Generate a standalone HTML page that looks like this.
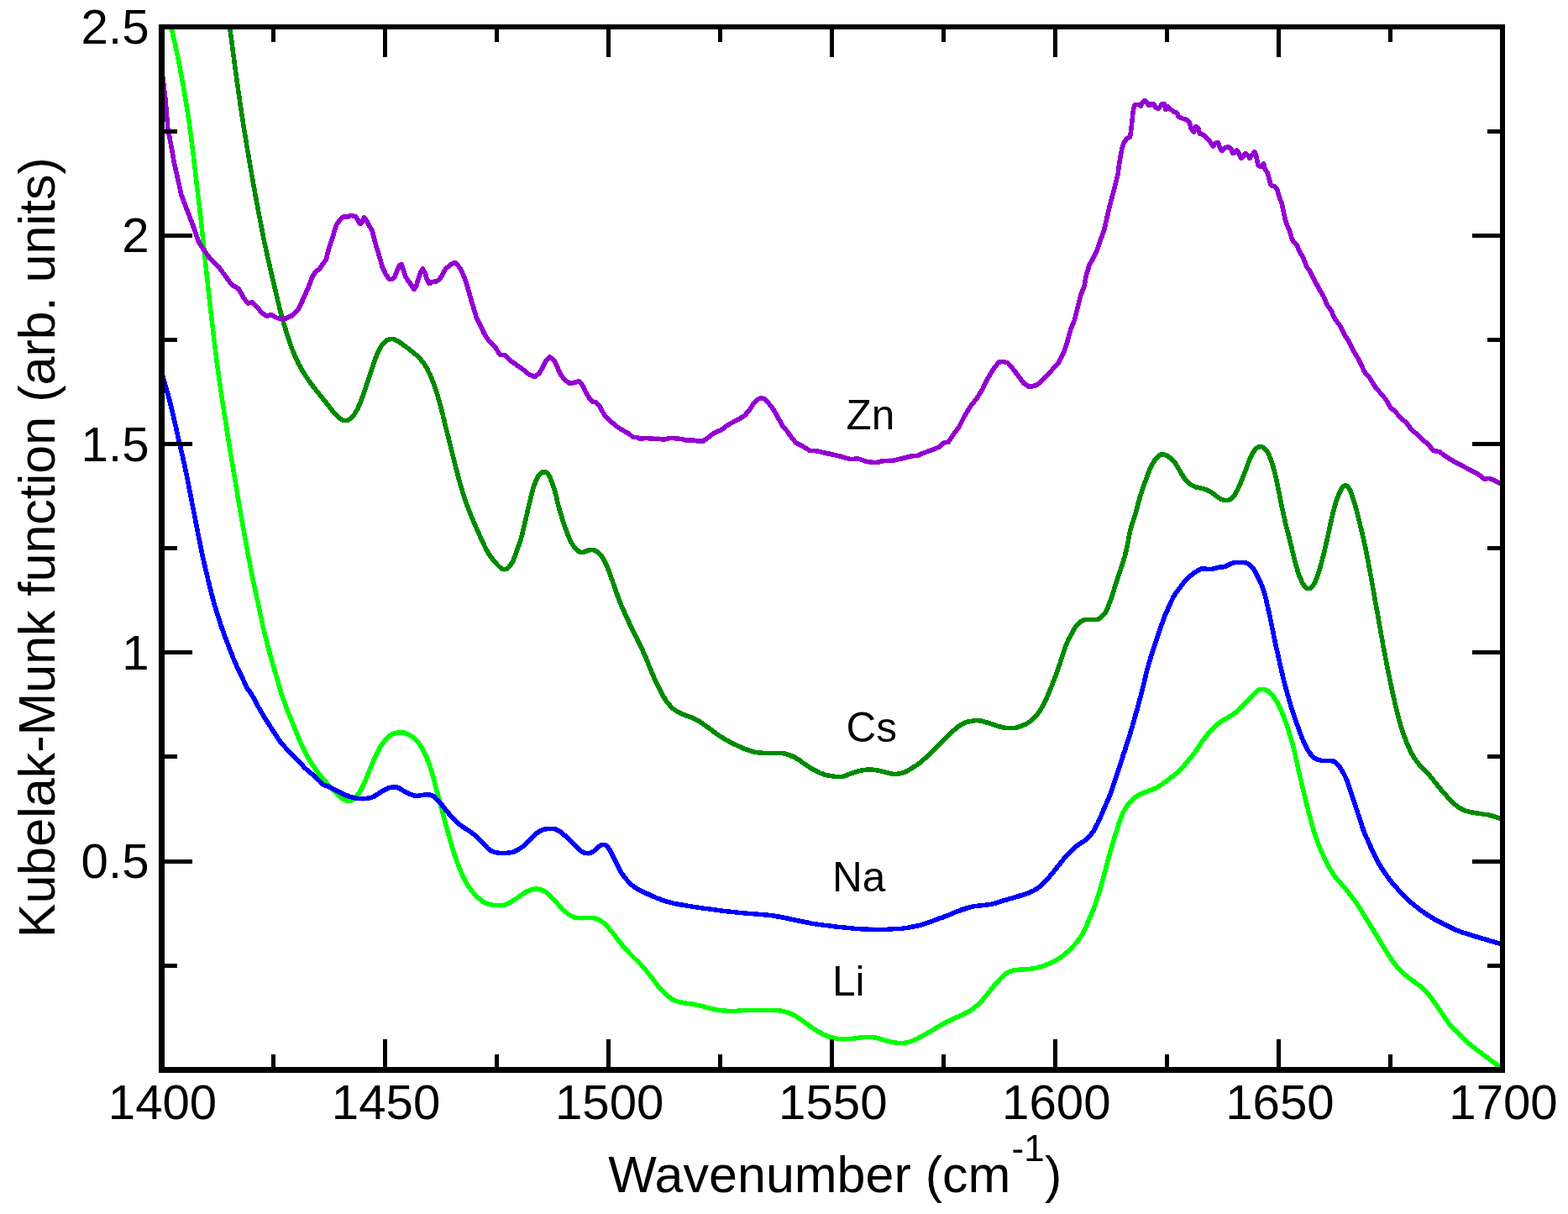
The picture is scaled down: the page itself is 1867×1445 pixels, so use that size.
<!DOCTYPE html>
<html lang="en"><head><meta charset="utf-8"><title>Kubelak-Munk function vs Wavenumber</title>
<style>
html,body{margin:0;padding:0;background:#fff;}
body{width:1867px;height:1445px;overflow:hidden;}
svg{display:block;}
text{font-family:"Liberation Sans",Arial,Helvetica,sans-serif;fill:#000;}
</style></head><body>
<svg width="1867" height="1445" viewBox="0 0 1867 1445">
<rect width="1867" height="1445" fill="#fff"/>
<defs><clipPath id="pc"><rect x="196" y="35" width="1590" height="1235"/></clipPath><filter id="sq" filterUnits="userSpaceOnUse" x="179" y="19" width="1623" height="1268" color-interpolation-filters="sRGB"><feComponentTransfer result="t"><feFuncA type="linear" slope="200" intercept="-100"/></feComponentTransfer><feMorphology in="t" operator="dilate" radius="2 1" result="a"/><feMorphology in="t" operator="dilate" radius="1 2" result="b"/><feMerge><feMergeNode in="a"/><feMergeNode in="b"/></feMerge></filter></defs>
<g clip-path="url(#pc)" fill="none" stroke-width="1.3" stroke-linejoin="round" stroke-linecap="butt">
<g stroke="#00ff00"><defs><path id="cLi" d="M202.9,25.7L203.2,27.7L203.5,29.7L203.9,31.6L204.2,33.6L204.6,35.6L205.0,37.5L205.5,39.5L205.9,41.4L206.3,43.4L206.8,45.3L207.2,47.3L207.6,49.2L208.1,51.2L208.5,53.1L209.0,55.1L209.4,57.0L209.8,59.0L210.3,60.9L210.7,62.9L211.1,64.9L211.5,66.8L211.9,68.8L212.3,70.7L212.7,72.7L213.1,74.7L213.4,76.6L213.8,78.6L214.2,80.6L214.6,82.5L214.9,84.5L215.3,86.5L215.6,88.4L216.0,90.4L216.4,92.4L216.7,94.3L217.1,96.3L217.4,98.3L217.8,100.2L218.1,102.2L218.5,104.2L218.8,106.1L219.2,108.1L219.5,110.1L219.8,112.1L220.2,114.0L220.5,116.0L220.9,118.0L221.2,119.9L221.5,121.9L221.9,123.9L222.2,125.9L222.5,127.8L222.8,129.8L223.1,131.8L223.4,133.8L223.7,135.7L224.0,137.7L224.3,139.7L224.6,141.7L224.9,143.7L225.2,145.6L225.5,147.6L225.7,149.6L226.0,151.6L226.3,153.6L226.5,155.6L226.8,157.5L227.1,159.5L227.3,161.5L227.6,163.5L227.8,165.5L228.1,167.5L228.3,169.4L228.6,171.4L228.8,173.4L229.1,175.4L229.3,177.4L229.6,179.4L229.8,181.4L230.1,183.3L230.3,185.3L230.5,187.3L230.8,189.3L231.0,191.3L231.2,193.3L231.5,195.3L231.7,197.2L231.9,199.2L232.2,201.2L232.4,203.2L232.6,205.2L232.8,207.2L233.1,209.2L233.3,211.2L233.5,213.1L233.8,215.1L234.0,217.1L234.2,219.1L234.5,221.1L234.7,223.1L234.9,225.1L235.2,227.0L235.4,229.0L235.7,231.0L235.9,233.0L236.1,235.0L236.4,237.0L236.6,239.0L236.8,241.0L237.1,242.9L237.3,244.9L237.5,246.9L237.8,248.9L238.0,250.9L238.2,252.9L238.4,254.9L238.7,256.8L238.9,258.8L239.1,260.8L239.3,262.8L239.5,264.8L239.7,266.8L239.9,268.8L240.1,270.8L240.4,272.8L240.6,274.8L240.8,276.7L241.0,278.7L241.2,280.7L241.4,282.7L241.6,284.7L241.8,286.7L242.0,288.7L242.3,290.7L242.5,292.7L242.7,294.6L242.9,296.6L243.1,298.6L243.3,300.6L243.5,302.6L243.7,304.6L244.0,306.6L244.2,308.6L244.4,310.6L244.6,312.5L244.8,314.5L245.0,316.5L245.2,318.5L245.5,320.5L245.7,322.5L245.9,324.5L246.1,326.5L246.3,328.5L246.5,330.4L246.7,332.4L247.0,334.4L247.2,336.4L247.4,338.4L247.6,340.4L247.8,342.4L248.0,344.4L248.2,346.4L248.5,348.3L248.7,350.3L248.9,352.3L249.1,354.3L249.3,356.3L249.6,358.3L249.8,360.3L250.0,362.3L250.2,364.2L250.5,366.2L250.7,368.2L250.9,370.2L251.1,372.2L251.4,374.2L251.6,376.2L251.8,378.2L252.1,380.1L252.3,382.1L252.5,384.1L252.8,386.1L253.0,388.1L253.3,390.1L253.5,392.1L253.7,394.0L254.0,396.0L254.2,398.0L254.4,400.0L254.7,402.0L254.9,404.0L255.2,406.0L255.4,408.0L255.6,409.9L255.9,411.9L256.1,413.9L256.3,415.9L256.6,417.9L256.8,419.9L257.1,421.9L257.3,423.8L257.5,425.8L257.8,427.8L258.0,429.8L258.3,431.8L258.5,433.8L258.8,435.7L259.1,437.7L259.3,439.7L259.6,441.7L259.9,443.7L260.2,445.7L260.4,447.6L260.7,449.6L261.0,451.6L261.3,453.6L261.6,455.6L261.9,457.5L262.2,459.5L262.4,461.5L262.7,463.5L263.0,465.5L263.3,467.4L263.6,469.4L263.9,471.4L264.2,473.4L264.5,475.3L264.8,477.3L265.1,479.3L265.4,481.3L265.7,483.3L266.0,485.2L266.3,487.2L266.6,489.2L266.9,491.2L267.2,493.1L267.5,495.1L267.8,497.1L268.1,499.1L268.5,501.1L268.8,503.0L269.1,505.0L269.4,507.0L269.7,509.0L270.0,510.9L270.3,512.9L270.6,514.9L270.9,516.9L271.2,518.8L271.5,520.8L271.8,522.8L272.2,524.8L272.5,526.7L272.8,528.7L273.1,530.7L273.4,532.7L273.7,534.6L274.1,536.6L274.4,538.6L274.7,540.6L275.0,542.5L275.4,544.5L275.7,546.5L276.0,548.5L276.4,550.4L276.7,552.4L277.0,554.4L277.4,556.4L277.7,558.3L278.0,560.3L278.3,562.3L278.7,564.2L279.0,566.2L279.3,568.2L279.7,570.2L280.0,572.1L280.3,574.1L280.6,576.1L281.0,578.1L281.3,580.0L281.6,582.0L281.9,584.0L282.3,586.0L282.6,587.9L282.9,589.9L283.2,591.9L283.6,593.8L283.9,595.8L284.3,597.8L284.6,599.8L285.0,601.7L285.3,603.7L285.6,605.7L286.0,607.6L286.3,609.6L286.7,611.6L287.0,613.5L287.4,615.5L287.7,617.5L288.1,619.5L288.4,621.4L288.8,623.4L289.1,625.4L289.5,627.3L289.8,629.3L290.2,631.3L290.5,633.2L290.9,635.2L291.2,637.2L291.6,639.2L291.9,641.1L292.3,643.1L292.7,645.1L293.0,647.0L293.4,649.0L293.7,651.0L294.1,652.9L294.4,654.9L294.8,656.9L295.2,658.8L295.5,660.8L295.9,662.8L296.3,664.7L296.6,666.7L297.0,668.7L297.4,670.6L297.7,672.6L298.1,674.6L298.5,676.5L298.9,678.5L299.3,680.4L299.7,682.4L300.1,684.4L300.5,686.3L300.9,688.3L301.3,690.2L301.7,692.2L302.1,694.2L302.5,696.1L302.9,698.1L303.4,700.0L303.8,702.0L304.2,703.9L304.6,705.9L305.1,707.8L305.5,709.8L305.9,711.8L306.3,713.7L306.8,715.7L307.2,717.6L307.6,719.6L308.0,721.5L308.4,723.5L308.8,725.5L309.2,727.4L309.6,729.4L310.0,731.3L310.5,733.3L310.9,735.2L311.3,737.2L311.7,739.2L312.2,741.1L312.6,743.1L313.0,745.0L313.5,747.0L313.9,748.9L314.4,750.9L314.9,752.8L315.3,754.7L315.8,756.7L316.3,758.6L316.8,760.6L317.3,762.5L317.8,764.4L318.3,766.4L318.8,768.3L319.3,770.3L319.8,772.2L320.3,774.1L320.8,776.1L321.3,778.0L321.8,779.9L322.4,781.8L322.9,783.8L323.5,785.7L324.0,787.6L324.5,789.6L325.1,791.5L325.7,793.4L326.2,795.3L326.8,797.2L327.3,799.2L327.9,801.1L328.5,803.0L329.0,804.9L329.6,806.8L330.2,808.8L330.7,810.7L331.3,812.6L331.8,814.5L332.4,816.4L332.9,818.4L333.5,820.3L334.1,822.2L334.7,824.1L335.3,826.0L335.9,827.9L336.5,829.8L337.2,831.7L337.9,833.6L338.5,835.5L339.2,837.3L339.9,839.2L340.6,841.1L341.3,843.0L342.1,844.8L342.8,846.7L343.5,848.6L344.2,850.4L345.0,852.3L345.7,854.1L346.4,856.0L347.2,857.9L347.9,859.7L348.7,861.6L349.4,863.4L350.2,865.3L351.0,867.1L351.7,869.0L352.5,870.8L353.2,872.7L354.0,874.5L354.8,876.4L355.5,878.2L356.3,880.1L357.1,881.9L357.9,883.7L358.7,885.6L359.5,887.4L360.3,889.2L361.2,891.0L362.1,892.8L363.0,894.6L363.9,896.4L364.8,898.2L365.8,899.9L366.7,901.7L367.8,903.4L368.8,905.1L369.9,906.8L371.0,908.5L372.0,910.1L373.2,911.8L374.3,913.5L375.4,915.1L376.6,916.7L377.7,918.4L378.9,920.0L380.1,921.6L381.4,923.1L382.7,924.7L384.0,926.2L385.3,927.7L386.6,929.2L388.0,930.6L389.3,932.1L390.7,933.6L392.0,935.1L393.3,936.6L394.6,938.1L395.9,939.6L397.3,941.1L398.7,942.6L400.1,944.0L401.5,945.4L402.9,946.8L404.4,948.1L405.9,949.4L407.6,950.6L409.2,951.6L411.0,952.5L412.9,953.1L414.9,953.3L416.8,953.1L418.7,952.5L420.5,951.6L422.1,950.4L423.5,949.0L424.8,947.5L426.0,945.9L427.1,944.2L428.2,942.5L429.2,940.8L430.2,939.1L431.1,937.3L432.0,935.5L432.9,933.7L433.8,931.9L434.6,930.1L435.4,928.3L436.1,926.4L436.9,924.5L437.6,922.7L438.4,920.8L439.1,919.0L439.9,917.1L440.6,915.3L441.4,913.4L442.2,911.6L443.0,909.7L443.7,907.9L444.5,906.1L445.3,904.2L446.1,902.4L447.0,900.6L447.8,898.8L448.7,897.0L449.6,895.2L450.5,893.4L451.4,891.6L452.4,889.9L453.5,888.2L454.5,886.5L455.6,884.8L456.8,883.2L457.9,881.6L459.2,880.0L460.6,878.6L462.1,877.2L463.6,876.0L465.3,874.9L467.0,873.9L468.8,873.1L470.8,872.6L472.7,872.2L474.7,872.0L476.7,871.9L478.7,871.9L480.7,872.1L482.6,872.7L484.4,873.4L486.2,874.3L488.0,875.3L489.7,876.3L491.3,877.4L493.0,878.6L494.5,879.9L495.9,881.3L497.2,882.8L498.5,884.3L499.6,886.0L500.7,887.6L501.8,889.3L502.8,891.1L503.8,892.8L504.7,894.6L505.6,896.4L506.4,898.2L507.3,900.0L508.0,901.8L508.8,903.7L509.6,905.6L510.3,907.4L511.0,909.3L511.6,911.2L512.3,913.1L512.9,915.0L513.4,916.9L514.0,918.8L514.6,920.7L515.1,922.7L515.6,924.6L516.2,926.5L516.7,928.5L517.2,930.4L517.7,932.3L518.2,934.3L518.7,936.2L519.2,938.1L519.7,940.1L520.2,942.0L520.7,944.0L521.2,945.9L521.7,947.8L522.2,949.8L522.7,951.7L523.3,953.6L523.8,955.5L524.3,957.5L524.8,959.4L525.4,961.3L525.9,963.3L526.4,965.2L526.9,967.1L527.5,969.1L528.0,971.0L528.5,972.9L529.1,974.8L529.6,976.8L530.1,978.7L530.6,980.6L531.1,982.6L531.7,984.5L532.2,986.4L532.7,988.4L533.2,990.3L533.8,992.2L534.3,994.1L534.8,996.1L535.4,998.0L535.9,999.9L536.5,1001.8L537.0,1003.8L537.6,1005.7L538.2,1007.6L538.7,1009.5L539.3,1011.4L539.9,1013.3L540.5,1015.3L541.1,1017.2L541.8,1019.1L542.4,1020.9L543.1,1022.8L543.8,1024.7L544.5,1026.6L545.2,1028.5L545.9,1030.3L546.7,1032.2L547.4,1034.0L548.2,1035.9L548.9,1037.7L549.7,1039.6L550.5,1041.4L551.4,1043.2L552.2,1045.0L553.1,1046.8L554.1,1048.6L555.0,1050.3L556.1,1052.0L557.1,1053.7L558.2,1055.4L559.3,1057.1L560.5,1058.7L561.7,1060.3L562.9,1061.9L564.2,1063.4L565.5,1064.9L566.9,1066.3L568.4,1067.7L569.9,1069.0L571.4,1070.3L572.9,1071.6L574.5,1072.8L576.2,1073.9L577.9,1074.9L579.8,1075.6L581.7,1076.1L583.7,1076.6L585.6,1077.0L587.6,1077.3L589.6,1077.5L591.6,1077.7L593.6,1077.8L595.6,1077.9L597.6,1077.8L599.5,1077.6L601.5,1077.1L603.3,1076.3L605.1,1075.3L606.8,1074.4L608.5,1073.4L610.3,1072.4L612.0,1071.3L613.6,1070.2L615.3,1069.1L616.9,1068.0L618.6,1066.8L620.2,1065.6L621.8,1064.4L623.5,1063.4L625.2,1062.3L627.0,1061.4L628.8,1060.6L630.6,1059.8L632.5,1059.1L634.4,1058.6L636.4,1058.2L638.4,1058.0L640.4,1058.0L642.3,1058.3L644.2,1058.8L646.1,1059.6L647.8,1060.5L649.5,1061.6L651.1,1062.8L652.7,1064.0L654.2,1065.3L655.6,1066.7L657.0,1068.2L658.4,1069.6L659.7,1071.1L661.0,1072.6L662.4,1074.1L663.7,1075.6L665.1,1077.1L666.4,1078.6L667.7,1080.0L669.1,1081.5L670.5,1082.9L672.0,1084.3L673.5,1085.6L675.0,1086.9L676.6,1088.1L678.3,1089.2L680.0,1090.2L681.8,1091.0L683.7,1091.7L685.6,1092.2L687.6,1092.5L689.6,1092.8L691.6,1092.8L693.6,1092.8L695.6,1092.8L697.6,1092.6L699.6,1092.3L701.6,1092.2L703.5,1092.3L705.5,1092.5L707.5,1092.8L709.4,1093.3L711.3,1094.0L713.1,1094.8L714.9,1095.8L716.5,1096.9L718.1,1098.1L719.7,1099.4L721.1,1100.8L722.5,1102.2L723.9,1103.7L725.2,1105.1L726.5,1106.7L727.8,1108.2L729.1,1109.7L730.3,1111.3L731.5,1112.9L732.8,1114.5L734.0,1116.1L735.2,1117.7L736.4,1119.3L737.6,1120.9L738.8,1122.4L740.1,1124.0L741.4,1125.5L742.7,1127.0L744.0,1128.5L745.3,1130.0L746.7,1131.5L748.1,1132.9L749.5,1134.4L750.8,1135.8L752.2,1137.3L753.7,1138.7L755.1,1140.1L756.5,1141.5L758.0,1142.9L759.4,1144.3L760.8,1145.7L762.2,1147.1L763.6,1148.6L764.9,1150.0L766.2,1151.6L767.5,1153.1L768.8,1154.6L770.1,1156.2L771.3,1157.7L772.6,1159.3L773.8,1160.8L775.1,1162.4L776.3,1164.0L777.5,1165.6L778.7,1167.2L779.9,1168.8L781.1,1170.4L782.3,1172.0L783.5,1173.6L784.8,1175.1L786.1,1176.6L787.5,1178.1L788.9,1179.5L790.3,1180.9L791.8,1182.2L793.2,1183.6L794.7,1185.0L796.2,1186.3L797.7,1187.6L799.3,1188.8L801.1,1189.8L802.9,1190.6L804.8,1191.3L806.7,1191.9L808.6,1192.4L810.5,1192.9L812.5,1193.4L814.4,1193.7L816.4,1194.0L818.4,1194.3L820.4,1194.6L822.4,1194.8L824.4,1195.0L826.3,1195.4L828.3,1195.8L830.2,1196.3L832.2,1196.7L834.1,1197.2L836.0,1197.7L838.0,1198.2L839.9,1198.7L841.8,1199.3L843.8,1199.8L845.7,1200.3L847.7,1200.7L849.6,1201.1L851.6,1201.5L853.6,1201.9L855.5,1202.2L857.5,1202.5L859.5,1202.7L861.5,1202.9L863.5,1203.1L865.5,1203.2L867.5,1203.3L869.5,1203.4L871.5,1203.4L873.5,1203.4L875.5,1203.3L877.5,1203.2L879.5,1203.1L881.5,1202.9L883.4,1202.7L885.4,1202.6L887.4,1202.5L889.4,1202.5L891.4,1202.5L893.4,1202.4L895.4,1202.4L897.4,1202.4L899.4,1202.5L901.4,1202.5L903.4,1202.5L905.4,1202.5L907.4,1202.5L909.4,1202.5L911.4,1202.5L913.4,1202.5L915.4,1202.5L917.4,1202.5L919.4,1202.5L921.4,1202.5L923.4,1202.5L925.4,1202.6L927.4,1202.7L929.4,1203.0L931.4,1203.3L933.3,1203.8L935.3,1204.3L937.2,1204.9L939.1,1205.5L940.9,1206.3L942.7,1207.1L944.5,1208.0L946.3,1209.0L948.0,1210.0L949.7,1211.0L951.4,1212.1L953.1,1213.2L954.7,1214.4L956.3,1215.5L957.9,1216.7L959.6,1217.9L961.2,1219.0L962.8,1220.2L964.4,1221.4L966.1,1222.5L967.7,1223.7L969.4,1224.8L971.0,1225.9L972.7,1226.9L974.4,1228.0L976.2,1229.0L977.9,1229.9L979.7,1230.9L981.5,1231.7L983.4,1232.5L985.2,1233.2L987.1,1233.9L989.0,1234.5L990.9,1235.0L992.9,1235.5L994.8,1235.9L996.8,1236.2L998.8,1236.5L1000.8,1236.7L1002.8,1236.8L1004.8,1236.9L1006.8,1236.8L1008.8,1236.8L1010.8,1236.6L1012.8,1236.5L1014.8,1236.3L1016.7,1236.0L1018.7,1235.7L1020.7,1235.4L1022.7,1235.1L1024.7,1234.9L1026.7,1234.7L1028.6,1234.5L1030.6,1234.3L1032.6,1234.3L1034.6,1234.3L1036.6,1234.4L1038.6,1234.6L1040.6,1234.8L1042.6,1235.2L1044.5,1235.6L1046.5,1236.1L1048.4,1236.7L1050.3,1237.3L1052.2,1237.9L1054.1,1238.5L1056.0,1239.0L1058.0,1239.5L1059.9,1239.9L1061.9,1240.3L1063.8,1240.7L1065.8,1241.0L1067.8,1241.3L1069.8,1241.5L1071.8,1241.5L1073.8,1241.5L1075.8,1241.3L1077.8,1241.1L1079.7,1240.7L1081.7,1240.3L1083.6,1239.8L1085.5,1239.2L1087.4,1238.5L1089.2,1237.7L1091.0,1236.8L1092.8,1236.0L1094.6,1235.1L1096.4,1234.1L1098.2,1233.2L1099.9,1232.2L1101.7,1231.2L1103.4,1230.2L1105.1,1229.2L1106.8,1228.2L1108.6,1227.2L1110.3,1226.2L1112.0,1225.1L1113.7,1224.1L1115.4,1223.1L1117.1,1222.0L1118.9,1221.0L1120.6,1220.0L1122.3,1219.1L1124.1,1218.1L1125.8,1217.1L1127.6,1216.2L1129.4,1215.3L1131.2,1214.5L1133.1,1213.7L1134.9,1212.9L1136.7,1212.0L1138.5,1211.2L1140.4,1210.4L1142.2,1209.6L1144.0,1208.8L1145.8,1207.9L1147.6,1207.1L1149.4,1206.2L1151.2,1205.2L1152.9,1204.3L1154.7,1203.2L1156.3,1202.2L1158.0,1201.0L1159.6,1199.8L1161.2,1198.6L1162.7,1197.3L1164.2,1196.0L1165.6,1194.6L1167.1,1193.2L1168.4,1191.7L1169.8,1190.2L1171.1,1188.7L1172.4,1187.2L1173.6,1185.7L1174.9,1184.1L1176.2,1182.6L1177.4,1181.0L1178.7,1179.4L1179.9,1177.9L1181.1,1176.3L1182.4,1174.8L1183.7,1173.2L1185.0,1171.7L1186.3,1170.2L1187.6,1168.7L1188.9,1167.2L1190.3,1165.7L1191.7,1164.3L1193.2,1162.9L1194.6,1161.6L1196.2,1160.3L1197.7,1159.1L1199.4,1157.9L1201.1,1157.0L1203.0,1156.2L1204.8,1155.5L1206.8,1155.0L1208.7,1154.6L1210.7,1154.3L1212.7,1154.2L1214.7,1154.1L1216.7,1154.0L1218.7,1153.9L1220.7,1153.8L1222.7,1153.6L1224.7,1153.5L1226.7,1153.3L1228.7,1153.0L1230.6,1152.7L1232.6,1152.3L1234.6,1151.9L1236.5,1151.4L1238.4,1150.9L1240.3,1150.4L1242.2,1149.7L1244.1,1149.1L1246.0,1148.3L1247.8,1147.6L1249.7,1146.8L1251.5,1145.9L1253.3,1145.0L1255.1,1144.1L1256.8,1143.2L1258.6,1142.2L1260.3,1141.2L1261.9,1140.1L1263.6,1138.9L1265.2,1137.8L1266.8,1136.5L1268.4,1135.3L1269.9,1134.0L1271.4,1132.7L1272.9,1131.3L1274.3,1129.9L1275.7,1128.5L1277.1,1127.1L1278.5,1125.6L1279.8,1124.1L1281.1,1122.6L1282.4,1121.1L1283.6,1119.5L1284.8,1117.9L1285.9,1116.2L1287.0,1114.5L1288.1,1112.8L1289.1,1111.1L1290.1,1109.4L1291.0,1107.6L1292.0,1105.9L1292.9,1104.1L1293.7,1102.3L1294.4,1100.4L1295.2,1098.6L1295.9,1096.7L1296.6,1094.8L1297.4,1093.0L1298.2,1091.1L1299.0,1089.3L1299.7,1087.5L1300.5,1085.6L1301.3,1083.8L1302.1,1081.9L1302.8,1080.0L1303.5,1078.2L1304.1,1076.3L1304.8,1074.4L1305.4,1072.5L1306.1,1070.6L1306.7,1068.7L1307.3,1066.8L1307.9,1064.9L1308.5,1063.0L1309.1,1061.1L1309.7,1059.2L1310.2,1057.2L1310.8,1055.3L1311.3,1053.4L1311.8,1051.5L1312.4,1049.5L1312.9,1047.6L1313.4,1045.7L1313.9,1043.7L1314.4,1041.8L1314.9,1039.9L1315.4,1037.9L1316.0,1036.0L1316.5,1034.1L1317.0,1032.1L1317.5,1030.2L1318.0,1028.3L1318.6,1026.3L1319.1,1024.4L1319.6,1022.5L1320.1,1020.5L1320.7,1018.6L1321.2,1016.7L1321.7,1014.8L1322.3,1012.8L1322.8,1010.9L1323.4,1009.0L1324.0,1007.1L1324.5,1005.2L1325.1,1003.2L1325.7,1001.3L1326.3,999.4L1326.8,997.5L1327.4,995.6L1328.0,993.7L1328.6,991.8L1329.2,989.9L1329.8,987.9L1330.4,986.0L1331.0,984.1L1331.6,982.2L1332.2,980.3L1332.9,978.4L1333.5,976.5L1334.2,974.7L1335.0,972.8L1335.7,970.9L1336.5,969.1L1337.3,967.3L1338.2,965.5L1339.2,963.7L1340.1,962.0L1341.2,960.3L1342.3,958.6L1343.5,957.1L1344.8,955.5L1346.2,954.0L1347.6,952.6L1349.0,951.2L1350.5,949.9L1352.1,948.7L1353.8,947.6L1355.5,946.6L1357.3,945.6L1359.1,944.8L1360.9,943.9L1362.7,943.2L1364.6,942.5L1366.5,941.8L1368.3,941.1L1370.2,940.3L1372.1,939.6L1373.9,938.9L1375.8,938.1L1377.6,937.3L1379.3,936.3L1381.0,935.3L1382.7,934.2L1384.4,933.0L1386.0,931.8L1387.6,930.6L1389.2,929.4L1390.7,928.2L1392.3,927.0L1393.9,925.7L1395.5,924.5L1397.0,923.2L1398.6,922.0L1400.2,920.8L1401.7,919.5L1403.2,918.2L1404.7,916.9L1406.2,915.5L1407.6,914.0L1408.9,912.5L1410.2,911.0L1411.4,909.5L1412.7,907.9L1413.9,906.3L1415.2,904.8L1416.4,903.2L1417.7,901.7L1418.9,900.1L1420.2,898.6L1421.5,897.0L1422.7,895.4L1423.9,893.8L1425.0,892.1L1426.1,890.5L1427.2,888.8L1428.3,887.1L1429.4,885.4L1430.5,883.8L1431.6,882.2L1432.8,880.6L1434.1,879.0L1435.3,877.4L1436.6,875.9L1437.9,874.3L1439.2,872.8L1440.5,871.3L1441.8,869.8L1443.2,868.3L1444.5,866.9L1445.9,865.4L1447.4,864.0L1448.8,862.7L1450.4,861.4L1452.0,860.2L1453.6,859.1L1455.3,858.0L1457.0,856.9L1458.7,855.9L1460.4,854.9L1462.2,853.9L1463.9,852.9L1465.6,851.8L1467.3,850.8L1468.9,849.7L1470.5,848.4L1472.1,847.2L1473.5,845.8L1474.9,844.4L1476.3,842.9L1477.7,841.5L1479.1,840.0L1480.5,838.6L1481.9,837.2L1483.3,835.8L1484.7,834.4L1486.2,833.0L1487.6,831.5L1489.0,830.1L1490.4,828.7L1491.8,827.3L1493.2,825.8L1494.6,824.5L1496.1,823.1L1497.8,822.0L1499.5,821.1L1501.4,820.5L1503.4,820.3L1505.3,820.5L1507.2,821.2L1508.9,822.2L1510.6,823.3L1512.1,824.6L1513.5,826.0L1514.9,827.4L1516.2,829.0L1517.4,830.6L1518.5,832.3L1519.5,833.9L1520.5,835.7L1521.5,837.4L1522.4,839.2L1523.3,841.0L1524.2,842.8L1525.0,844.6L1525.8,846.4L1526.6,848.3L1527.4,850.1L1528.1,852.0L1528.8,853.9L1529.5,855.7L1530.2,857.6L1530.9,859.5L1531.6,861.4L1532.2,863.3L1532.8,865.2L1533.4,867.1L1534.1,869.0L1534.7,870.9L1535.2,872.8L1535.8,874.7L1536.4,876.6L1537.0,878.5L1537.5,880.5L1538.1,882.4L1538.6,884.3L1539.1,886.2L1539.7,888.2L1540.2,890.1L1540.7,892.1L1541.2,894.0L1541.6,895.9L1542.1,897.9L1542.5,899.8L1542.9,901.8L1543.4,903.7L1543.8,905.7L1544.2,907.7L1544.6,909.6L1545.1,911.6L1545.5,913.5L1545.9,915.5L1546.4,917.4L1546.8,919.4L1547.3,921.3L1547.8,923.3L1548.2,925.2L1548.7,927.2L1549.1,929.1L1549.6,931.1L1550.0,933.0L1550.5,934.9L1550.9,936.9L1551.4,938.8L1551.9,940.8L1552.3,942.7L1552.8,944.7L1553.3,946.6L1553.7,948.6L1554.2,950.5L1554.7,952.5L1555.1,954.4L1555.6,956.3L1556.1,958.3L1556.6,960.2L1557.1,962.2L1557.6,964.1L1558.0,966.0L1558.5,968.0L1559.1,969.9L1559.6,971.9L1560.1,973.8L1560.6,975.7L1561.1,977.7L1561.6,979.6L1562.1,981.5L1562.7,983.4L1563.2,985.4L1563.8,987.3L1564.4,989.2L1565.0,991.1L1565.6,993.0L1566.2,994.9L1566.9,996.8L1567.6,998.7L1568.3,1000.6L1569.0,1002.4L1569.7,1004.3L1570.4,1006.2L1571.2,1008.0L1571.9,1009.9L1572.7,1011.7L1573.5,1013.5L1574.3,1015.4L1575.1,1017.2L1576.0,1019.0L1576.8,1020.8L1577.6,1022.6L1578.5,1024.5L1579.4,1026.3L1580.2,1028.1L1581.2,1029.8L1582.1,1031.6L1583.1,1033.3L1584.1,1035.0L1585.2,1036.7L1586.3,1038.4L1587.4,1040.1L1588.5,1041.7L1589.7,1043.4L1590.9,1045.0L1592.1,1046.5L1593.4,1048.1L1594.7,1049.6L1596.1,1051.0L1597.4,1052.5L1598.8,1054.0L1600.1,1055.5L1601.4,1057.0L1602.6,1058.6L1603.9,1060.1L1605.1,1061.7L1606.4,1063.3L1607.6,1064.8L1608.8,1066.4L1610.0,1068.0L1611.2,1069.6L1612.4,1071.2L1613.6,1072.8L1614.8,1074.5L1615.9,1076.1L1617.0,1077.8L1618.1,1079.4L1619.2,1081.1L1620.3,1082.8L1621.3,1084.5L1622.3,1086.2L1623.4,1088.0L1624.4,1089.7L1625.4,1091.4L1626.5,1093.1L1627.5,1094.8L1628.6,1096.5L1629.6,1098.2L1630.7,1099.9L1631.7,1101.6L1632.8,1103.3L1633.8,1105.0L1634.9,1106.7L1635.9,1108.4L1637.0,1110.1L1638.0,1111.8L1639.1,1113.5L1640.1,1115.2L1641.2,1116.9L1642.2,1118.6L1643.3,1120.4L1644.3,1122.1L1645.3,1123.8L1646.4,1125.5L1647.4,1127.2L1648.5,1128.9L1649.5,1130.6L1650.6,1132.3L1651.7,1134.0L1652.7,1135.7L1653.8,1137.4L1654.9,1139.0L1656.0,1140.7L1657.1,1142.4L1658.2,1144.0L1659.4,1145.6L1660.6,1147.2L1661.9,1148.8L1663.2,1150.3L1664.5,1151.8L1665.9,1153.3L1667.2,1154.7L1668.6,1156.1L1670.1,1157.5L1671.6,1158.9L1673.1,1160.2L1674.6,1161.5L1676.1,1162.8L1677.7,1164.0L1679.3,1165.2L1680.9,1166.4L1682.5,1167.6L1684.1,1168.8L1685.7,1170.0L1687.3,1171.2L1689.0,1172.3L1690.6,1173.5L1692.2,1174.7L1693.7,1176.0L1695.2,1177.3L1696.6,1178.8L1697.9,1180.2L1699.3,1181.7L1700.5,1183.3L1701.8,1184.8L1703.1,1186.4L1704.3,1187.9L1705.5,1189.5L1706.7,1191.2L1707.8,1192.8L1709.0,1194.4L1710.1,1196.1L1711.3,1197.7L1712.4,1199.3L1713.5,1201.0L1714.6,1202.7L1715.7,1204.4L1716.8,1206.0L1717.9,1207.7L1719.0,1209.4L1720.2,1211.0L1721.3,1212.7L1722.5,1214.3L1723.6,1215.9L1724.8,1217.6L1726.0,1219.2L1727.2,1220.8L1728.4,1222.3L1729.8,1223.8L1731.2,1225.2L1732.7,1226.6L1734.1,1227.9L1735.6,1229.3L1737.0,1230.7L1738.4,1232.2L1739.8,1233.6L1741.2,1235.0L1742.6,1236.4L1744.1,1237.8L1745.6,1239.1L1747.0,1240.5L1748.5,1241.8L1750.1,1243.1L1751.6,1244.3L1753.2,1245.6L1754.8,1246.8L1756.4,1248.0L1758.0,1249.2L1759.6,1250.4L1761.2,1251.6L1762.8,1252.8L1764.4,1254.0L1766.0,1255.2L1767.6,1256.4L1769.2,1257.6L1770.8,1258.8L1772.4,1260.0L1774.0,1261.2L1775.6,1262.4L1777.2,1263.6L1778.8,1264.7L1780.4,1265.9L1782.1,1267.1L1783.7,1268.2L1785.3,1269.4L1787.0,1270.6L1788.6,1271.7L1790.2,1272.9L1791.8,1274.0L1792.7,1274.6"/></defs><use href="#cLi" stroke-width="3"/><use href="#cLi" stroke-width="1.3" filter="url(#sq)"/></g>
<g stroke="#0000ff"><defs><path id="cNa" d="M190.5,435.0L191.0,436.9L191.5,438.9L191.9,440.8L192.4,442.8L192.9,444.7L193.5,446.6L194.0,448.6L194.5,450.5L195.0,452.4L195.5,454.4L196.1,456.3L196.6,458.2L197.2,460.1L197.7,462.0L198.3,464.0L198.9,465.9L199.5,467.8L200.0,469.7L200.6,471.6L201.1,473.6L201.6,475.5L202.1,477.4L202.6,479.4L203.1,481.3L203.6,483.3L204.0,485.2L204.5,487.1L205.0,489.1L205.4,491.0L205.9,493.0L206.3,494.9L206.8,496.9L207.2,498.8L207.7,500.8L208.1,502.7L208.6,504.7L209.0,506.6L209.4,508.6L209.9,510.5L210.3,512.5L210.7,514.4L211.2,516.4L211.6,518.3L212.0,520.3L212.5,522.3L212.9,524.2L213.4,526.2L213.8,528.1L214.2,530.1L214.7,532.0L215.2,533.9L215.6,535.9L216.1,537.8L216.5,539.8L217.0,541.7L217.4,543.7L217.9,545.6L218.4,547.6L218.8,549.5L219.2,551.5L219.7,553.4L220.1,555.4L220.5,557.3L220.9,559.3L221.3,561.3L221.7,563.2L222.1,565.2L222.5,567.1L222.9,569.1L223.3,571.1L223.7,573.0L224.1,575.0L224.4,577.0L224.8,578.9L225.2,580.9L225.6,582.8L226.0,584.8L226.4,586.8L226.7,588.7L227.1,590.7L227.5,592.7L227.9,594.6L228.3,596.6L228.7,598.5L229.0,600.5L229.4,602.5L229.8,604.4L230.2,606.4L230.6,608.4L231.0,610.3L231.3,612.3L231.7,614.2L232.1,616.2L232.5,618.2L232.9,620.1L233.2,622.1L233.6,624.1L234.0,626.0L234.4,628.0L234.8,630.0L235.2,631.9L235.5,633.9L235.9,635.8L236.3,637.8L236.7,639.8L237.1,641.7L237.5,643.7L237.9,645.7L238.3,647.6L238.7,649.6L239.1,651.5L239.5,653.5L239.9,655.5L240.3,657.4L240.7,659.4L241.1,661.3L241.5,663.3L241.9,665.2L242.4,667.2L242.8,669.1L243.3,671.1L243.7,673.0L244.2,675.0L244.7,676.9L245.1,678.9L245.6,680.8L246.1,682.8L246.5,684.7L247.0,686.6L247.5,688.6L247.9,690.5L248.4,692.5L248.9,694.4L249.3,696.4L249.8,698.3L250.3,700.3L250.8,702.2L251.2,704.1L251.7,706.1L252.2,708.0L252.7,709.9L253.2,711.9L253.8,713.8L254.3,715.7L254.8,717.7L255.4,719.6L255.9,721.5L256.5,723.4L257.1,725.3L257.6,727.3L258.2,729.2L258.8,731.1L259.4,733.0L260.0,734.9L260.6,736.8L261.3,738.7L261.9,740.6L262.5,742.5L263.1,744.4L263.8,746.3L264.4,748.2L265.1,750.1L265.8,752.0L266.4,753.8L267.1,755.7L267.8,757.6L268.5,759.5L269.2,761.3L269.9,763.2L270.6,765.1L271.4,767.0L272.1,768.8L272.8,770.7L273.5,772.6L274.2,774.4L275.0,776.3L275.7,778.1L276.4,780.0L277.2,781.9L277.9,783.7L278.7,785.5L279.5,787.4L280.3,789.2L281.1,791.1L281.9,792.9L282.8,794.7L283.6,796.5L284.5,798.3L285.4,800.1L286.2,801.9L287.1,803.7L288.0,805.5L288.8,807.3L289.6,809.1L290.4,811.0L291.2,812.8L292.0,814.7L292.9,816.5L293.8,818.2L294.8,819.9L296.0,821.6L297.2,823.2L298.4,824.8L299.5,826.4L300.5,828.2L301.5,829.9L302.4,831.7L303.3,833.4L304.3,835.2L305.2,837.0L306.2,838.7L307.2,840.5L308.1,842.2L309.1,843.9L310.1,845.7L311.1,847.4L312.1,849.2L313.1,850.9L314.1,852.6L315.2,854.3L316.2,856.0L317.3,857.7L318.4,859.4L319.5,861.1L320.5,862.7L321.6,864.4L322.7,866.1L323.8,867.8L324.9,869.4L326.0,871.1L327.1,872.8L328.2,874.5L329.2,876.2L330.3,877.9L331.4,879.5L332.6,881.2L333.8,882.8L335.0,884.3L336.3,885.9L337.6,887.4L338.9,888.9L340.2,890.4L341.6,891.9L343.0,893.3L344.3,894.8L345.7,896.2L347.1,897.7L348.5,899.1L349.9,900.5L351.3,902.0L352.7,903.4L354.1,904.8L355.6,906.2L357.0,907.6L358.3,909.1L359.7,910.5L361.0,912.0L362.4,913.5L363.8,914.9L365.2,916.3L366.7,917.6L368.3,918.9L369.9,920.1L371.4,921.3L373.0,922.6L374.5,923.9L375.9,925.3L377.4,926.6L378.9,928.0L380.3,929.4L381.7,930.8L383.1,932.3L384.5,933.7L386.1,934.7L388.0,935.2L389.9,935.7L391.8,936.5L393.5,937.4L395.3,938.4L397.0,939.3L398.8,940.3L400.6,941.2L402.4,942.1L404.2,943.0L406.0,943.9L407.8,944.7L409.6,945.6L411.4,946.4L413.3,947.1L415.1,947.8L417.0,948.4L419.0,948.9L420.9,949.4L422.9,949.8L424.9,950.1L426.8,950.4L428.8,950.6L430.8,950.8L432.8,950.8L434.8,950.7L436.8,950.4L438.7,950.0L440.7,949.6L442.6,949.0L444.5,948.3L446.3,947.4L448.0,946.4L449.6,945.3L451.3,944.1L453.0,943.1L454.7,942.0L456.4,941.0L458.1,940.1L459.9,939.2L461.7,938.3L463.6,937.7L465.6,937.2L467.5,936.9L469.5,936.8L471.5,937.0L473.4,937.4L475.3,938.1L477.1,939.1L478.7,940.2L480.3,941.3L482.0,942.4L483.8,943.3L485.6,944.1L487.5,944.9L489.3,945.7L491.2,946.3L493.1,946.8L495.1,947.2L497.1,947.2L499.1,947.0L501.1,946.7L503.0,946.5L505.0,946.2L507.0,945.8L509.0,945.7L510.9,945.8L512.9,946.3L514.7,947.1L516.4,948.1L518.0,949.3L519.5,950.6L520.9,952.0L522.3,953.5L523.6,955.0L524.9,956.5L526.2,958.0L527.4,959.6L528.7,961.2L529.9,962.8L531.1,964.3L532.4,965.9L533.7,967.4L534.9,969.0L536.2,970.5L537.6,972.0L538.9,973.5L540.3,974.9L541.7,976.4L543.1,977.7L544.6,979.1L546.1,980.4L547.6,981.7L549.2,983.0L550.8,984.1L552.5,985.2L554.2,986.3L555.9,987.3L557.6,988.3L559.3,989.4L560.9,990.6L562.5,991.8L564.1,993.0L565.7,994.2L567.2,995.5L568.7,996.8L570.1,998.2L571.5,999.6L572.9,1001.1L574.3,1002.5L575.7,1004.0L577.0,1005.5L578.3,1007.0L579.6,1008.5L581.0,1010.0L582.5,1011.3L584.1,1012.4L585.9,1013.2L587.8,1013.9L589.7,1014.5L591.7,1014.9L593.6,1015.3L595.6,1015.4L597.6,1015.5L599.6,1015.5L601.6,1015.4L603.6,1015.2L605.6,1015.0L607.6,1014.7L609.5,1014.3L611.5,1013.8L613.3,1013.1L615.2,1012.3L616.9,1011.3L618.6,1010.3L620.3,1009.1L621.9,1008.0L623.4,1006.7L625.0,1005.4L626.4,1004.1L627.8,1002.6L629.2,1001.2L630.6,999.7L632.0,998.3L633.4,996.9L634.9,995.6L636.3,994.2L637.8,992.9L639.4,991.6L641.0,990.4L642.6,989.3L644.4,988.4L646.3,987.7L648.2,987.2L650.2,986.8L652.2,986.5L654.1,986.4L656.1,986.3L658.1,986.4L660.1,986.7L662.0,987.3L663.8,988.1L665.6,989.0L667.3,990.1L668.9,991.3L670.4,992.6L671.9,993.9L673.4,995.3L674.8,996.7L676.3,998.0L677.7,999.4L679.1,1000.9L680.5,1002.3L681.9,1003.7L683.3,1005.1L684.7,1006.5L686.2,1007.9L687.6,1009.3L689.1,1010.7L690.6,1012.0L692.2,1013.2L693.9,1014.2L695.7,1015.1L697.6,1015.7L699.5,1015.9L701.5,1015.8L703.4,1015.2L705.1,1014.3L706.8,1013.2L708.4,1012.0L709.8,1010.6L711.3,1009.3L712.8,1007.9L714.4,1006.8L716.1,1005.8L718.0,1005.3L719.9,1005.4L721.6,1006.3L723.1,1007.6L724.4,1009.1L725.5,1010.8L726.5,1012.5L727.5,1014.2L728.4,1016.0L729.3,1017.8L730.2,1019.6L731.1,1021.4L731.9,1023.2L732.8,1025.0L733.7,1026.8L734.6,1028.6L735.4,1030.4L736.3,1032.2L737.2,1034.0L738.1,1035.7L739.1,1037.5L740.2,1039.2L741.3,1040.8L742.5,1042.5L743.7,1044.0L744.9,1045.6L746.2,1047.1L747.5,1048.6L748.9,1050.1L750.3,1051.5L751.8,1052.9L753.3,1054.2L754.9,1055.4L756.5,1056.5L758.2,1057.6L760.0,1058.6L761.7,1059.6L763.5,1060.5L765.3,1061.4L767.1,1062.2L768.9,1063.1L770.7,1063.9L772.5,1064.7L774.3,1065.6L776.2,1066.4L778.0,1067.2L779.8,1068.0L781.7,1068.8L783.5,1069.5L785.4,1070.2L787.3,1070.9L789.2,1071.5L791.1,1072.1L793.0,1072.7L794.9,1073.3L796.8,1073.8L798.8,1074.4L800.7,1074.9L802.6,1075.3L804.6,1075.7L806.6,1076.1L808.5,1076.5L810.5,1076.8L812.5,1077.1L814.5,1077.4L816.4,1077.7L818.4,1078.1L820.4,1078.4L822.3,1078.7L824.3,1079.1L826.3,1079.4L828.3,1079.7L830.2,1080.0L832.2,1080.3L834.2,1080.6L836.2,1080.9L838.2,1081.1L840.1,1081.4L842.1,1081.7L844.1,1081.9L846.1,1082.2L848.1,1082.5L850.1,1082.7L852.0,1083.0L854.0,1083.3L856.0,1083.5L858.0,1083.8L860.0,1084.1L862.0,1084.3L863.9,1084.6L865.9,1084.8L867.9,1085.0L869.9,1085.3L871.9,1085.5L873.9,1085.7L875.9,1085.9L877.8,1086.1L879.8,1086.3L881.8,1086.5L883.8,1086.7L885.8,1086.9L887.8,1087.1L889.8,1087.2L891.8,1087.4L893.8,1087.6L895.8,1087.7L897.8,1087.9L899.8,1088.0L901.8,1088.2L903.8,1088.3L905.7,1088.5L907.7,1088.7L909.7,1088.8L911.7,1089.0L913.7,1089.2L915.7,1089.4L917.7,1089.7L919.7,1089.9L921.7,1090.2L923.6,1090.5L925.6,1090.8L927.6,1091.2L929.5,1091.6L931.5,1091.9L933.5,1092.3L935.4,1092.7L937.4,1093.1L939.3,1093.5L941.3,1094.0L943.2,1094.4L945.2,1094.8L947.2,1095.2L949.1,1095.6L951.1,1096.0L953.0,1096.4L955.0,1096.8L957.0,1097.2L958.9,1097.6L960.9,1098.0L962.8,1098.4L964.8,1098.8L966.8,1099.1L968.7,1099.5L970.7,1099.8L972.7,1100.1L974.7,1100.4L976.7,1100.6L978.6,1100.9L980.6,1101.2L982.6,1101.4L984.6,1101.7L986.6,1101.9L988.6,1102.1L990.5,1102.4L992.5,1102.6L994.5,1102.8L996.5,1103.1L998.5,1103.3L1000.5,1103.5L1002.5,1103.7L1004.5,1103.9L1006.5,1104.1L1008.4,1104.3L1010.4,1104.5L1012.4,1104.7L1014.4,1104.9L1016.4,1105.1L1018.4,1105.3L1020.4,1105.5L1022.4,1105.7L1024.4,1105.8L1026.4,1105.9L1028.4,1106.0L1030.4,1106.0L1032.4,1106.1L1034.4,1106.2L1036.4,1106.2L1038.4,1106.2L1040.4,1106.3L1042.4,1106.3L1044.4,1106.3L1046.4,1106.4L1048.4,1106.4L1050.4,1106.4L1052.4,1106.4L1054.4,1106.3L1056.4,1106.2L1058.4,1106.1L1060.4,1106.0L1062.3,1105.9L1064.3,1105.7L1066.3,1105.6L1068.3,1105.5L1070.3,1105.4L1072.3,1105.3L1074.3,1105.2L1076.3,1104.9L1078.3,1104.7L1080.3,1104.3L1082.2,1104.0L1084.2,1103.6L1086.2,1103.2L1088.1,1102.8L1090.1,1102.4L1092.0,1102.0L1094.0,1101.5L1095.9,1101.1L1097.9,1100.5L1099.8,1099.9L1101.7,1099.3L1103.5,1098.6L1105.4,1098.0L1107.3,1097.3L1109.2,1096.6L1111.1,1096.0L1113.0,1095.3L1114.8,1094.6L1116.7,1093.9L1118.6,1093.2L1120.5,1092.5L1122.4,1091.8L1124.2,1091.1L1126.1,1090.4L1128.0,1089.7L1129.8,1089.0L1131.7,1088.2L1133.5,1087.5L1135.4,1086.7L1137.2,1086.0L1139.1,1085.2L1141.0,1084.5L1142.8,1083.8L1144.7,1083.1L1146.6,1082.4L1148.5,1081.8L1150.4,1081.2L1152.3,1080.6L1154.2,1080.1L1156.2,1079.6L1158.1,1079.1L1160.1,1078.7L1162.0,1078.4L1164.0,1078.1L1166.0,1078.0L1168.0,1077.8L1170.0,1077.6L1172.0,1077.4L1174.0,1077.2L1176.0,1076.9L1177.9,1076.6L1179.9,1076.3L1181.9,1075.9L1183.8,1075.4L1185.7,1074.9L1187.7,1074.3L1189.6,1073.7L1191.5,1073.1L1193.4,1072.5L1195.3,1071.9L1197.2,1071.4L1199.1,1070.8L1201.0,1070.2L1203.0,1069.6L1204.9,1069.1L1206.8,1068.5L1208.7,1067.9L1210.6,1067.4L1212.5,1066.8L1214.5,1066.2L1216.4,1065.6L1218.3,1065.0L1220.2,1064.4L1222.1,1063.7L1223.9,1063.1L1225.8,1062.3L1227.7,1061.6L1229.5,1060.7L1231.3,1059.8L1233.0,1058.9L1234.7,1057.8L1236.3,1056.6L1237.9,1055.4L1239.4,1054.1L1240.9,1052.8L1242.4,1051.4L1243.8,1050.0L1245.2,1048.6L1246.5,1047.1L1247.8,1045.6L1249.1,1044.1L1250.4,1042.5L1251.7,1041.0L1253.0,1039.5L1254.2,1037.9L1255.5,1036.3L1256.7,1034.8L1258.0,1033.2L1259.2,1031.6L1260.5,1030.1L1261.7,1028.5L1262.9,1026.9L1264.1,1025.3L1265.4,1023.8L1266.6,1022.2L1267.9,1020.7L1269.3,1019.2L1270.6,1017.7L1272.0,1016.3L1273.5,1014.9L1274.9,1013.5L1276.3,1012.1L1277.8,1010.7L1279.2,1009.4L1280.7,1008.0L1282.2,1006.7L1283.8,1005.5L1285.5,1004.4L1287.2,1003.4L1288.9,1002.4L1290.6,1001.3L1292.2,1000.1L1293.8,998.8L1295.2,997.5L1296.6,996.1L1298.0,994.6L1299.2,993.0L1300.4,991.4L1301.6,989.8L1302.6,988.1L1303.6,986.4L1304.6,984.6L1305.5,982.8L1306.4,981.0L1307.3,979.2L1308.1,977.4L1308.9,975.6L1309.8,973.8L1310.6,972.0L1311.4,970.1L1312.2,968.3L1312.9,966.4L1313.7,964.6L1314.5,962.8L1315.3,960.9L1316.1,959.1L1316.9,957.3L1317.7,955.4L1318.5,953.6L1319.3,951.8L1320.1,949.9L1320.9,948.1L1321.6,946.2L1322.3,944.4L1323.0,942.5L1323.6,940.6L1324.3,938.7L1324.9,936.8L1325.5,934.9L1326.2,933.0L1326.8,931.1L1327.5,929.2L1328.1,927.3L1328.7,925.4L1329.4,923.5L1330.0,921.6L1330.6,919.7L1331.2,917.8L1331.9,915.9L1332.5,914.0L1333.1,912.1L1333.7,910.2L1334.3,908.3L1335.0,906.4L1335.6,904.5L1336.2,902.6L1336.8,900.7L1337.4,898.8L1338.0,896.9L1338.7,895.0L1339.3,893.1L1339.9,891.2L1340.5,889.3L1341.1,887.4L1341.7,885.5L1342.3,883.6L1342.9,881.7L1343.6,879.8L1344.2,877.9L1344.8,876.0L1345.4,874.0L1346.0,872.1L1346.5,870.2L1347.1,868.3L1347.7,866.4L1348.2,864.5L1348.8,862.5L1349.3,860.6L1349.9,858.7L1350.4,856.8L1351.0,854.8L1351.5,852.9L1352.0,851.0L1352.6,849.1L1353.1,847.1L1353.7,845.2L1354.2,843.3L1354.7,841.4L1355.2,839.4L1355.8,837.5L1356.3,835.6L1356.8,833.6L1357.4,831.7L1357.9,829.8L1358.4,827.8L1358.9,825.9L1359.4,824.0L1359.9,822.0L1360.4,820.1L1360.9,818.2L1361.3,816.2L1361.8,814.3L1362.2,812.3L1362.7,810.4L1363.1,808.4L1363.6,806.5L1364.1,804.5L1364.5,802.6L1365.0,800.6L1365.5,798.7L1366.0,796.8L1366.6,794.8L1367.1,792.9L1367.6,791.0L1368.2,789.1L1368.7,787.1L1369.3,785.2L1369.9,783.3L1370.4,781.4L1371.0,779.5L1371.6,777.6L1372.2,775.7L1372.9,773.8L1373.5,771.9L1374.1,770.0L1374.7,768.1L1375.4,766.2L1376.0,764.3L1376.6,762.4L1377.2,760.5L1377.9,758.6L1378.5,756.7L1379.2,754.8L1379.8,752.9L1380.5,751.0L1381.1,749.1L1381.8,747.2L1382.5,745.3L1383.1,743.5L1383.8,741.6L1384.5,739.7L1385.1,737.8L1385.8,735.9L1386.5,734.1L1387.3,732.2L1388.1,730.4L1388.9,728.5L1389.7,726.7L1390.5,724.9L1391.3,723.0L1392.1,721.2L1392.9,719.4L1393.8,717.6L1394.6,715.8L1395.5,714.0L1396.4,712.2L1397.3,710.4L1398.3,708.6L1399.3,706.9L1400.4,705.3L1401.6,703.7L1402.9,702.1L1404.1,700.6L1405.3,699.0L1406.5,697.4L1407.7,695.7L1408.9,694.1L1410.1,692.6L1411.4,691.1L1412.8,689.6L1414.3,688.2L1415.7,686.9L1417.3,685.6L1418.8,684.3L1420.4,683.1L1422.0,681.9L1423.6,680.8L1425.3,679.7L1427.1,678.7L1428.8,677.8L1430.7,677.0L1432.6,676.7L1434.5,677.0L1436.4,677.4L1438.4,677.6L1440.4,677.5L1442.4,677.4L1444.3,677.1L1446.3,676.6L1448.2,676.1L1450.1,675.6L1452.1,675.2L1454.1,675.0L1456.1,674.8L1458.0,674.5L1459.9,673.9L1461.7,673.0L1463.5,672.1L1465.3,671.2L1467.1,670.4L1469.0,669.9L1471.0,669.7L1473.0,669.7L1475.0,669.7L1477.0,669.6L1479.0,669.5L1481.0,669.5L1482.9,669.7L1484.8,670.3L1486.5,671.3L1488.1,672.5L1489.6,673.9L1490.9,675.3L1492.2,676.9L1493.4,678.5L1494.4,680.2L1495.4,681.9L1496.3,683.7L1497.2,685.5L1498.0,687.3L1498.9,689.1L1499.7,690.9L1500.5,692.8L1501.4,694.6L1502.2,696.4L1502.9,698.3L1503.7,700.1L1504.3,702.0L1504.9,703.9L1505.5,705.8L1506.0,707.8L1506.5,709.7L1507.0,711.6L1507.4,713.6L1507.9,715.5L1508.3,717.5L1508.8,719.4L1509.2,721.4L1509.7,723.3L1510.1,725.3L1510.6,727.2L1511.0,729.2L1511.4,731.1L1511.9,733.1L1512.3,735.1L1512.7,737.0L1513.1,739.0L1513.5,740.9L1513.9,742.9L1514.3,744.8L1514.7,746.8L1515.1,748.8L1515.5,750.7L1515.9,752.7L1516.3,754.7L1516.6,756.6L1517.0,758.6L1517.4,760.5L1517.9,762.5L1518.3,764.4L1518.7,766.4L1519.1,768.4L1519.6,770.3L1520.0,772.3L1520.5,774.2L1520.9,776.2L1521.3,778.1L1521.8,780.1L1522.2,782.0L1522.6,784.0L1523.1,785.9L1523.5,787.9L1523.9,789.8L1524.4,791.8L1524.8,793.7L1525.2,795.7L1525.7,797.6L1526.1,799.6L1526.6,801.5L1527.1,803.5L1527.5,805.4L1528.0,807.4L1528.5,809.3L1529.0,811.2L1529.5,813.2L1530.0,815.1L1530.5,817.0L1531.0,819.0L1531.5,820.9L1532.1,822.8L1532.6,824.8L1533.1,826.7L1533.7,828.6L1534.2,830.5L1534.8,832.5L1535.3,834.4L1535.9,836.3L1536.4,838.2L1537.0,840.1L1537.6,842.1L1538.2,844.0L1538.8,845.9L1539.4,847.8L1540.0,849.7L1540.6,851.6L1541.3,853.5L1541.9,855.4L1542.6,857.3L1543.2,859.1L1543.9,861.0L1544.6,862.9L1545.3,864.8L1546.0,866.7L1546.7,868.5L1547.4,870.4L1548.0,872.3L1548.7,874.2L1549.5,876.0L1550.2,877.9L1550.9,879.8L1551.7,881.6L1552.5,883.4L1553.3,885.3L1554.2,887.1L1555.1,888.8L1556.1,890.6L1557.1,892.3L1558.1,894.0L1559.2,895.7L1560.3,897.3L1561.6,898.9L1562.9,900.4L1564.4,901.7L1566.1,902.8L1567.9,903.7L1569.7,904.4L1571.6,904.9L1573.6,905.2L1575.6,905.3L1577.6,905.3L1579.6,905.3L1581.6,905.4L1583.6,905.5L1585.6,905.7L1587.5,906.2L1589.3,907.1L1590.9,908.2L1592.4,909.6L1593.7,911.1L1594.9,912.6L1596.1,914.3L1597.1,916.0L1598.2,917.7L1599.1,919.4L1600.1,921.2L1601.0,923.0L1601.9,924.8L1602.7,926.6L1603.5,928.4L1604.2,930.3L1604.9,932.1L1605.6,934.0L1606.2,935.9L1606.8,937.8L1607.4,939.8L1608.0,941.7L1608.6,943.6L1609.2,945.5L1609.9,947.4L1610.5,949.3L1611.1,951.2L1611.8,953.1L1612.4,955.0L1613.0,956.8L1613.7,958.7L1614.3,960.6L1614.9,962.5L1615.6,964.4L1616.2,966.3L1616.8,968.2L1617.5,970.1L1618.1,972.0L1618.7,973.9L1619.4,975.8L1620.0,977.7L1620.6,979.6L1621.2,981.5L1621.8,983.4L1622.4,985.3L1623.1,987.2L1623.8,989.1L1624.5,991.0L1625.2,992.8L1626.0,994.7L1626.8,996.5L1627.7,998.3L1628.5,1000.1L1629.3,1001.9L1630.1,1003.8L1630.9,1005.6L1631.7,1007.4L1632.6,1009.3L1633.4,1011.1L1634.2,1012.9L1635.1,1014.7L1635.9,1016.5L1636.8,1018.3L1637.7,1020.1L1638.6,1021.9L1639.5,1023.7L1640.5,1025.4L1641.5,1027.2L1642.4,1028.9L1643.4,1030.6L1644.5,1032.4L1645.5,1034.1L1646.6,1035.7L1647.7,1037.4L1648.8,1039.1L1650.0,1040.7L1651.2,1042.3L1652.3,1043.9L1653.5,1045.6L1654.7,1047.1L1655.9,1048.7L1657.2,1050.3L1658.5,1051.8L1659.8,1053.3L1661.1,1054.8L1662.4,1056.3L1663.8,1057.8L1665.2,1059.3L1666.5,1060.7L1667.9,1062.2L1669.3,1063.6L1670.7,1065.1L1672.0,1066.5L1673.4,1067.9L1674.9,1069.4L1676.3,1070.8L1677.7,1072.1L1679.2,1073.5L1680.7,1074.8L1682.2,1076.1L1683.8,1077.4L1685.3,1078.6L1686.9,1079.8L1688.5,1081.0L1690.1,1082.2L1691.7,1083.4L1693.4,1084.6L1695.0,1085.8L1696.6,1086.9L1698.3,1088.0L1699.9,1089.1L1701.6,1090.2L1703.3,1091.3L1705.0,1092.4L1706.7,1093.4L1708.4,1094.4L1710.2,1095.4L1711.9,1096.3L1713.7,1097.3L1715.5,1098.2L1717.3,1099.1L1719.1,1100.0L1720.9,1100.9L1722.7,1101.7L1724.5,1102.6L1726.3,1103.4L1728.1,1104.3L1729.9,1105.1L1731.7,1106.0L1733.5,1106.8L1735.4,1107.6L1737.2,1108.3L1739.1,1109.0L1741.0,1109.7L1742.9,1110.3L1744.8,1110.9L1746.7,1111.5L1748.6,1112.1L1750.5,1112.7L1752.4,1113.3L1754.4,1113.9L1756.3,1114.5L1758.2,1115.0L1760.1,1115.6L1762.0,1116.2L1763.9,1116.7L1765.9,1117.3L1767.8,1117.9L1769.7,1118.5L1771.6,1119.1L1773.5,1119.6L1775.4,1120.2L1777.4,1120.7L1779.3,1121.3L1781.2,1121.8L1783.1,1122.3L1785.1,1122.8L1787.0,1123.4L1788.9,1123.9L1790.9,1124.4L1792.8,1125.0"/></defs><use href="#cNa" stroke-width="3"/><use href="#cNa" stroke-width="1.3" filter="url(#sq)"/></g>
<g stroke="#008b00"><defs><path id="cCs" d="M272.5,25.7L272.8,27.7L273.1,29.7L273.4,31.6L273.7,33.6L274.0,35.6L274.3,37.6L274.6,39.6L274.8,41.5L275.1,43.5L275.3,45.5L275.6,47.5L275.9,49.5L276.1,51.5L276.4,53.4L276.6,55.4L276.9,57.4L277.1,59.4L277.4,61.4L277.7,63.4L277.9,65.3L278.2,67.3L278.4,69.3L278.7,71.3L279.0,73.3L279.2,75.3L279.5,77.2L279.8,79.2L280.0,81.2L280.3,83.2L280.6,85.2L280.9,87.1L281.1,89.1L281.4,91.1L281.7,93.1L282.0,95.1L282.2,97.1L282.5,99.0L282.8,101.0L283.1,103.0L283.3,105.0L283.6,107.0L283.9,108.9L284.2,110.9L284.5,112.9L284.8,114.9L285.1,116.9L285.3,118.8L285.6,120.8L285.9,122.8L286.2,124.8L286.5,126.7L286.8,128.7L287.1,130.7L287.4,132.7L287.7,134.7L288.0,136.6L288.3,138.6L288.6,140.6L288.9,142.6L289.2,144.5L289.5,146.5L289.8,148.5L290.1,150.5L290.4,152.5L290.7,154.4L291.0,156.4L291.4,158.4L291.7,160.4L292.0,162.3L292.3,164.3L292.6,166.3L293.0,168.2L293.3,170.2L293.6,172.2L293.9,174.2L294.3,176.1L294.6,178.1L294.9,180.1L295.3,182.1L295.6,184.0L296.0,186.0L296.3,188.0L296.6,189.9L297.0,191.9L297.3,193.9L297.6,195.9L298.0,197.8L298.3,199.8L298.7,201.8L299.0,203.7L299.4,205.7L299.7,207.7L300.0,209.6L300.4,211.6L300.7,213.6L301.1,215.6L301.4,217.5L301.8,219.5L302.1,221.5L302.5,223.4L302.9,225.4L303.2,227.4L303.6,229.3L303.9,231.3L304.3,233.3L304.6,235.2L305.0,237.2L305.4,239.2L305.7,241.1L306.1,243.1L306.5,245.1L306.8,247.0L307.2,249.0L307.6,251.0L307.9,252.9L308.3,254.9L308.7,256.9L309.1,258.8L309.4,260.8L309.8,262.8L310.2,264.7L310.6,266.7L311.0,268.6L311.3,270.6L311.7,272.6L312.1,274.5L312.5,276.5L312.9,278.5L313.3,280.4L313.6,282.4L314.0,284.3L314.4,286.3L314.8,288.3L315.2,290.2L315.7,292.2L316.1,294.1L316.5,296.1L316.9,298.0L317.4,300.0L317.8,301.9L318.2,303.9L318.7,305.9L319.1,307.8L319.6,309.8L320.0,311.7L320.4,313.7L320.9,315.6L321.3,317.6L321.8,319.5L322.2,321.5L322.7,323.4L323.1,325.3L323.6,327.3L324.0,329.2L324.5,331.2L324.9,333.1L325.4,335.1L325.9,337.0L326.3,339.0L326.8,340.9L327.2,342.9L327.7,344.8L328.2,346.8L328.6,348.7L329.1,350.7L329.5,352.6L330.0,354.6L330.5,356.5L330.9,358.4L331.4,360.4L331.9,362.3L332.4,364.3L332.8,366.2L333.3,368.2L333.8,370.1L334.3,372.0L334.8,374.0L335.4,375.9L335.9,377.8L336.4,379.7L337.0,381.7L337.5,383.6L338.1,385.5L338.6,387.4L339.2,389.3L339.8,391.3L340.4,393.2L341.0,395.1L341.6,397.0L342.2,398.9L342.8,400.8L343.5,402.7L344.1,404.6L344.7,406.5L345.4,408.4L346.0,410.3L346.7,412.2L347.4,414.0L348.0,415.9L348.8,417.8L349.5,419.6L350.2,421.5L351.0,423.3L351.8,425.2L352.6,427.0L353.5,428.8L354.3,430.6L355.2,432.4L356.1,434.2L357.1,436.0L358.0,437.7L359.0,439.5L360.0,441.2L361.1,442.9L362.2,444.6L363.2,446.3L364.3,447.9L365.4,449.6L366.6,451.3L367.7,452.9L368.9,454.5L370.0,456.1L371.2,457.7L372.4,459.3L373.6,460.9L374.8,462.5L376.1,464.1L377.3,465.7L378.6,467.2L379.8,468.8L381.1,470.3L382.4,471.9L383.6,473.5L384.9,475.0L386.1,476.6L387.4,478.1L388.6,479.7L389.9,481.3L391.1,482.8L392.3,484.4L393.6,486.0L394.8,487.6L396.0,489.2L397.2,490.7L398.5,492.3L399.9,493.7L401.3,495.2L402.7,496.5L404.3,497.8L405.9,498.9L407.7,499.9L409.5,500.5L411.5,500.6L413.4,500.3L415.3,499.5L417.0,498.5L418.5,497.2L419.9,495.8L421.1,494.2L422.2,492.6L423.3,490.9L424.3,489.2L425.3,487.4L426.2,485.6L427.0,483.8L427.9,482.0L428.6,480.2L429.4,478.3L430.1,476.4L430.8,474.6L431.5,472.7L432.2,470.8L432.9,468.9L433.5,467.0L434.2,465.1L434.8,463.3L435.5,461.4L436.1,459.5L436.8,457.6L437.4,455.7L438.0,453.8L438.6,451.9L439.3,450.0L439.9,448.1L440.5,446.2L441.1,444.3L441.7,442.4L442.4,440.5L443.0,438.6L443.6,436.7L444.2,434.7L444.8,432.8L445.4,431.0L446.1,429.1L446.8,427.2L447.5,425.3L448.3,423.5L449.0,421.6L449.8,419.8L450.6,418.0L451.5,416.2L452.4,414.4L453.5,412.7L454.6,411.0L455.8,409.4L457.1,407.9L458.6,406.6L460.2,405.4L461.9,404.5L463.8,403.9L465.8,403.6L467.7,403.7L469.7,404.1L471.5,404.9L473.3,405.7L475.0,406.8L476.7,407.9L478.3,409.1L479.9,410.3L481.5,411.5L483.1,412.7L484.7,413.8L486.3,415.0L487.9,416.3L489.5,417.5L491.0,418.7L492.6,420.0L494.1,421.3L495.6,422.6L497.1,424.0L498.5,425.4L499.9,426.8L501.3,428.3L502.6,429.8L503.8,431.3L505.0,433.0L506.1,434.6L507.1,436.4L508.1,438.1L509.0,439.9L509.9,441.7L510.8,443.5L511.7,445.3L512.5,447.1L513.3,448.9L514.0,450.8L514.8,452.6L515.5,454.5L516.2,456.4L516.9,458.2L517.6,460.1L518.2,462.0L518.9,463.9L519.5,465.8L520.1,467.7L520.7,469.6L521.2,471.5L521.8,473.5L522.4,475.4L522.9,477.3L523.4,479.2L524.0,481.2L524.5,483.1L525.0,485.0L525.5,487.0L526.0,488.9L526.5,490.8L527.0,492.8L527.5,494.7L527.9,496.7L528.4,498.6L528.9,500.6L529.3,502.5L529.8,504.4L530.3,506.4L530.8,508.3L531.3,510.3L531.7,512.2L532.2,514.1L532.7,516.1L533.2,518.0L533.7,520.0L534.2,521.9L534.7,523.8L535.1,525.8L535.6,527.7L536.1,529.7L536.6,531.6L537.1,533.6L537.6,535.5L538.0,537.4L538.5,539.4L539.0,541.3L539.5,543.3L540.0,545.2L540.4,547.1L540.9,549.1L541.4,551.0L541.9,553.0L542.4,554.9L542.9,556.8L543.4,558.8L543.9,560.7L544.4,562.6L544.9,564.6L545.4,566.5L545.9,568.5L546.4,570.4L547.0,572.3L547.5,574.2L548.0,576.2L548.6,578.1L549.1,580.0L549.7,581.9L550.3,583.9L550.8,585.8L551.4,587.7L552.1,589.6L552.7,591.5L553.3,593.4L554.0,595.3L554.6,597.2L555.3,599.0L555.9,600.9L556.6,602.8L557.3,604.7L558.0,606.5L558.8,608.4L559.5,610.3L560.3,612.1L561.0,614.0L561.8,615.8L562.6,617.7L563.4,619.5L564.1,621.3L564.9,623.2L565.7,625.0L566.5,626.8L567.3,628.7L568.1,630.5L568.9,632.3L569.7,634.2L570.5,636.0L571.4,637.8L572.2,639.7L573.0,641.5L573.8,643.3L574.7,645.1L575.5,646.9L576.4,648.7L577.3,650.5L578.1,652.3L579.0,654.1L580.0,655.9L581.0,657.6L582.0,659.3L583.1,661.0L584.3,662.6L585.5,664.2L586.7,665.8L587.9,667.4L589.2,668.9L590.6,670.4L591.9,671.9L593.3,673.3L594.7,674.7L596.2,676.1L597.8,677.2L599.6,677.8L601.5,677.8L603.3,677.1L604.9,676.0L606.3,674.6L607.6,673.0L608.7,671.4L609.8,669.7L610.7,667.9L611.5,666.1L612.3,664.3L613.1,662.4L613.7,660.5L614.4,658.6L615.0,656.7L615.6,654.8L616.3,652.9L616.9,651.0L617.6,649.2L618.3,647.3L618.9,645.4L619.6,643.5L620.2,641.6L620.7,639.7L621.3,637.7L621.8,635.8L622.3,633.9L622.7,631.9L623.2,630.0L623.7,628.0L624.1,626.1L624.6,624.1L625.0,622.2L625.5,620.2L625.9,618.3L626.3,616.3L626.8,614.4L627.2,612.4L627.7,610.5L628.1,608.5L628.6,606.6L629.0,604.6L629.5,602.7L630.0,600.8L630.4,598.8L630.9,596.9L631.3,594.9L631.8,593.0L632.2,591.0L632.7,589.1L633.2,587.1L633.7,585.2L634.2,583.3L634.8,581.4L635.4,579.4L636.1,577.6L636.8,575.7L637.5,573.8L638.3,572.0L639.2,570.2L640.1,568.4L641.1,566.7L642.2,565.1L643.6,563.6L645.1,562.4L646.9,561.7L648.8,561.8L650.6,562.5L652.1,563.7L653.3,565.3L654.2,567.0L655.1,568.8L655.8,570.7L656.6,572.5L657.3,574.4L658.0,576.3L658.6,578.2L659.2,580.1L659.8,582.0L660.4,583.9L660.9,585.8L661.5,587.8L662.0,589.7L662.4,591.6L662.9,593.6L663.4,595.5L663.8,597.5L664.3,599.4L664.8,601.4L665.3,603.3L665.8,605.2L666.3,607.2L666.9,609.1L667.4,611.0L668.0,612.9L668.6,614.8L669.2,616.7L669.8,618.6L670.4,620.5L671.1,622.4L671.7,624.3L672.4,626.2L673.0,628.1L673.7,630.0L674.4,631.9L675.1,633.7L675.8,635.6L676.5,637.5L677.3,639.3L678.1,641.2L678.9,643.0L679.8,644.8L680.7,646.5L681.8,648.2L682.9,649.9L684.1,651.5L685.4,653.0L686.8,654.5L688.2,655.8L689.9,656.9L691.7,657.4L693.7,657.3L695.6,656.8L697.5,656.2L699.4,655.6L701.3,654.9L703.2,654.5L705.2,654.4L707.1,654.8L708.9,655.6L710.6,656.6L712.3,657.8L713.7,659.1L715.1,660.5L716.3,662.1L717.5,663.8L718.5,665.5L719.5,667.2L720.4,669.0L721.3,670.8L722.1,672.6L722.9,674.4L723.6,676.3L724.4,678.2L725.1,680.0L725.7,681.9L726.4,683.8L727.1,685.7L727.8,687.6L728.5,689.4L729.2,691.3L729.8,693.2L730.5,695.1L731.2,697.0L731.8,698.9L732.5,700.7L733.2,702.6L733.8,704.5L734.5,706.4L735.1,708.3L735.8,710.2L736.5,712.1L737.2,713.9L737.9,715.8L738.6,717.7L739.4,719.5L740.2,721.4L740.9,723.2L741.7,725.0L742.6,726.9L743.4,728.7L744.2,730.5L745.0,732.3L745.8,734.2L746.6,736.0L747.5,737.8L748.3,739.6L749.2,741.4L750.0,743.2L750.9,745.0L751.8,746.8L752.7,748.6L753.6,750.4L754.5,752.2L755.4,754.0L756.3,755.8L757.2,757.6L758.1,759.3L758.9,761.1L759.8,762.9L760.7,764.7L761.6,766.5L762.4,768.3L763.3,770.1L764.2,771.9L765.0,773.8L765.8,775.6L766.7,777.4L767.5,779.2L768.3,781.1L769.1,782.9L769.8,784.8L770.5,786.6L771.3,788.5L772.0,790.3L772.7,792.2L773.5,794.1L774.2,795.9L775.0,797.8L775.7,799.6L776.5,801.5L777.3,803.3L778.1,805.1L778.9,807.0L779.7,808.8L780.5,810.6L781.3,812.4L782.2,814.2L783.1,816.0L784.0,817.8L784.9,819.6L785.8,821.4L786.7,823.2L787.7,824.9L788.6,826.7L789.6,828.4L790.6,830.1L791.7,831.8L792.8,833.5L793.9,835.1L795.2,836.7L796.4,838.3L797.7,839.8L799.1,841.3L800.5,842.7L802.0,844.0L803.6,845.2L805.3,846.2L807.0,847.3L808.8,848.2L810.6,849.1L812.4,849.9L814.3,850.6L816.1,851.4L818.0,852.1L819.9,852.8L821.8,853.4L823.6,854.1L825.5,854.9L827.3,855.8L829.1,856.7L830.8,857.6L832.5,858.6L834.2,859.7L835.9,860.8L837.6,861.9L839.2,863.1L840.8,864.2L842.4,865.4L844.1,866.6L845.7,867.8L847.2,869.0L848.8,870.2L850.4,871.4L852.1,872.6L853.7,873.7L855.3,874.9L857.0,876.0L858.7,877.1L860.4,878.1L862.1,879.2L863.8,880.2L865.5,881.2L867.3,882.1L869.1,883.1L870.8,884.0L872.6,884.9L874.4,885.8L876.2,886.7L878.0,887.5L879.8,888.4L881.6,889.2L883.5,890.0L885.3,890.8L887.2,891.5L889.1,892.2L890.9,892.9L892.8,893.5L894.8,894.1L896.7,894.6L898.6,895.1L900.6,895.5L902.6,895.8L904.5,896.0L906.5,896.2L908.5,896.2L910.5,896.3L912.5,896.3L914.5,896.3L916.5,896.3L918.5,896.3L920.5,896.3L922.5,896.3L924.5,896.3L926.5,896.3L928.5,896.4L930.5,896.5L932.5,896.7L934.5,897.1L936.4,897.6L938.3,898.2L940.2,898.9L942.1,899.6L943.9,900.4L945.7,901.3L947.5,902.2L949.2,903.2L950.9,904.2L952.6,905.3L954.2,906.5L955.8,907.7L957.4,908.8L959.1,910.0L960.7,911.1L962.4,912.3L964.0,913.4L965.7,914.5L967.4,915.5L969.1,916.5L970.9,917.4L972.7,918.3L974.5,919.2L976.4,920.0L978.2,920.7L980.1,921.4L982.0,922.1L983.9,922.6L985.9,923.0L987.8,923.4L989.8,923.7L991.8,924.0L993.8,924.3L995.7,924.5L997.7,924.6L999.7,924.6L1001.7,924.4L1003.7,924.1L1005.6,923.5L1007.5,922.8L1009.3,922.1L1011.2,921.4L1013.1,920.8L1015.0,920.1L1016.9,919.4L1018.8,918.8L1020.7,918.2L1022.6,917.6L1024.6,917.2L1026.5,916.8L1028.5,916.5L1030.5,916.2L1032.5,916.1L1034.5,916.0L1036.5,916.0L1038.5,916.1L1040.4,916.3L1042.4,916.5L1044.4,916.8L1046.4,917.2L1048.3,917.7L1050.2,918.2L1052.2,918.7L1054.1,919.2L1056.1,919.7L1058.0,920.2L1059.9,920.6L1061.9,921.0L1063.9,921.3L1065.9,921.3L1067.9,921.3L1069.9,921.0L1071.8,920.7L1073.8,920.2L1075.7,919.6L1077.5,918.9L1079.3,918.0L1081.1,917.1L1082.8,916.1L1084.5,915.0L1086.2,914.0L1087.9,912.9L1089.6,911.8L1091.3,910.7L1092.9,909.6L1094.5,908.4L1096.1,907.2L1097.7,905.9L1099.2,904.6L1100.7,903.3L1102.2,902.0L1103.7,900.7L1105.1,899.3L1106.6,897.9L1108.0,896.5L1109.5,895.1L1110.9,893.7L1112.3,892.3L1113.7,890.9L1115.1,889.5L1116.5,888.1L1117.9,886.6L1119.3,885.2L1120.8,883.8L1122.2,882.4L1123.6,880.9L1125.0,879.5L1126.4,878.1L1127.8,876.7L1129.3,875.3L1130.7,873.9L1132.1,872.6L1133.6,871.2L1135.1,869.8L1136.6,868.5L1138.1,867.2L1139.6,866.0L1141.2,864.7L1142.9,863.6L1144.5,862.5L1146.3,861.5L1148.0,860.6L1149.9,859.8L1151.8,859.2L1153.7,858.8L1155.7,858.4L1157.7,858.1L1159.7,857.9L1161.7,857.7L1163.7,857.7L1165.7,857.8L1167.6,858.0L1169.6,858.4L1171.5,858.9L1173.5,859.5L1175.4,860.0L1177.3,860.6L1179.2,861.2L1181.1,861.9L1183.0,862.5L1184.9,863.1L1186.8,863.8L1188.7,864.4L1190.6,864.9L1192.5,865.4L1194.5,865.8L1196.5,866.2L1198.4,866.5L1200.4,866.7L1202.4,866.7L1204.4,866.7L1206.4,866.5L1208.4,866.3L1210.4,865.9L1212.3,865.4L1214.2,864.8L1216.1,864.2L1218.0,863.4L1219.8,862.6L1221.6,861.8L1223.3,860.8L1225.0,859.7L1226.6,858.5L1228.2,857.2L1229.7,855.9L1231.1,854.5L1232.5,853.1L1233.8,851.6L1235.1,850.1L1236.4,848.5L1237.5,846.9L1238.6,845.2L1239.7,843.5L1240.7,841.8L1241.6,840.0L1242.6,838.3L1243.5,836.5L1244.4,834.7L1245.3,832.9L1246.1,831.1L1246.9,829.3L1247.8,827.4L1248.5,825.6L1249.3,823.8L1250.0,821.9L1250.8,820.0L1251.5,818.2L1252.3,816.3L1253.0,814.5L1253.7,812.6L1254.4,810.7L1255.2,808.9L1255.9,807.0L1256.6,805.1L1257.3,803.3L1258.0,801.4L1258.7,799.5L1259.4,797.6L1260.0,795.7L1260.7,793.9L1261.3,792.0L1262.0,790.1L1262.6,788.2L1263.1,786.2L1263.7,784.3L1264.3,782.4L1264.9,780.5L1265.5,778.6L1266.2,776.7L1266.8,774.8L1267.5,772.9L1268.2,771.1L1268.9,769.2L1269.6,767.3L1270.4,765.5L1271.2,763.6L1272.0,761.8L1272.9,760.0L1273.9,758.3L1274.8,756.5L1275.7,754.7L1276.6,753.0L1277.6,751.2L1278.5,749.4L1279.6,747.7L1280.7,746.1L1282.0,744.5L1283.3,743.1L1284.7,741.6L1286.2,740.4L1287.9,739.2L1289.7,738.3L1291.6,737.7L1293.5,737.5L1295.5,737.4L1297.5,737.4L1299.5,737.5L1301.5,737.5L1303.5,737.5L1305.5,737.4L1307.4,736.9L1309.2,736.1L1310.8,735.0L1312.3,733.6L1313.7,732.2L1314.9,730.6L1316.1,729.0L1317.1,727.2L1318.0,725.5L1318.8,723.6L1319.6,721.8L1320.3,719.9L1321.0,718.1L1321.7,716.2L1322.4,714.3L1323.0,712.4L1323.6,710.5L1324.3,708.6L1324.9,706.7L1325.5,704.8L1326.1,702.9L1326.6,701.0L1327.2,699.1L1327.8,697.2L1328.4,695.2L1329.1,693.3L1329.7,691.5L1330.3,689.6L1331.0,687.7L1331.6,685.8L1332.2,683.9L1332.9,682.0L1333.5,680.1L1334.2,678.2L1334.8,676.3L1335.4,674.4L1336.0,672.5L1336.6,670.6L1337.3,668.7L1337.8,666.8L1338.4,664.8L1339.0,662.9L1339.5,661.0L1340.0,659.1L1340.5,657.1L1341.0,655.2L1341.4,653.2L1341.8,651.3L1342.2,649.3L1342.6,647.3L1343.0,645.4L1343.4,643.4L1343.8,641.5L1344.2,639.5L1344.5,637.5L1344.9,635.6L1345.3,633.6L1345.7,631.7L1346.2,629.7L1346.8,627.8L1347.3,625.9L1347.9,624.0L1348.5,622.1L1349.2,620.2L1349.8,618.3L1350.4,616.4L1351.0,614.4L1351.6,612.5L1352.2,610.6L1352.7,608.7L1353.2,606.8L1353.8,604.8L1354.3,602.9L1354.8,601.0L1355.3,599.0L1355.8,597.1L1356.3,595.2L1356.9,593.3L1357.5,591.3L1358.1,589.4L1358.7,587.5L1359.3,585.6L1359.9,583.7L1360.6,581.8L1361.2,579.9L1361.9,578.0L1362.5,576.2L1363.2,574.3L1363.9,572.4L1364.6,570.5L1365.3,568.7L1366.0,566.8L1366.7,564.9L1367.3,563.0L1368.0,561.1L1368.8,559.3L1369.6,557.4L1370.4,555.6L1371.4,553.9L1372.3,552.1L1373.4,550.4L1374.4,548.7L1375.5,547.1L1376.7,545.5L1378.1,544.0L1379.6,542.7L1381.3,541.6L1383.1,540.9L1385.0,540.8L1386.8,541.4L1388.6,542.2L1390.4,543.1L1392.1,544.2L1393.7,545.3L1395.3,546.5L1396.8,547.9L1398.1,549.4L1399.2,551.0L1400.3,552.7L1401.3,554.5L1402.3,556.2L1403.3,557.9L1404.4,559.6L1405.4,561.4L1406.3,563.1L1407.4,564.8L1408.4,566.5L1409.6,568.2L1410.7,569.8L1412.0,571.3L1413.3,572.9L1414.7,574.3L1416.2,575.6L1417.8,576.8L1419.5,577.8L1421.2,578.7L1423.1,579.5L1425.0,580.0L1427.0,580.5L1428.9,580.9L1430.9,581.4L1432.8,581.9L1434.7,582.4L1436.6,583.1L1438.4,583.9L1440.2,584.9L1441.9,585.9L1443.5,587.0L1445.2,588.1L1446.8,589.3L1448.4,590.5L1450.0,591.7L1451.7,592.8L1453.4,593.8L1455.3,594.6L1457.1,595.3L1459.1,595.6L1461.1,595.6L1463.0,595.2L1464.8,594.4L1466.4,593.3L1467.8,591.9L1469.1,590.4L1470.3,588.8L1471.3,587.1L1472.3,585.3L1473.2,583.6L1474.1,581.8L1475.0,579.9L1475.8,578.1L1476.6,576.3L1477.3,574.4L1478.1,572.6L1478.8,570.7L1479.6,568.9L1480.3,567.0L1481.0,565.1L1481.7,563.3L1482.5,561.4L1483.2,559.5L1483.9,557.7L1484.6,555.8L1485.3,553.9L1486.0,552.1L1486.8,550.2L1487.5,548.3L1488.2,546.5L1489.0,544.6L1489.8,542.8L1490.7,541.0L1491.7,539.3L1492.7,537.6L1493.9,536.0L1495.2,534.5L1496.7,533.2L1498.4,532.2L1500.3,531.6L1502.2,531.7L1504.0,532.5L1505.6,533.6L1507.0,535.0L1508.2,536.6L1509.3,538.3L1510.2,540.1L1511.1,541.9L1511.9,543.7L1512.6,545.5L1513.3,547.4L1514.0,549.3L1514.6,551.2L1515.2,553.1L1515.7,555.0L1516.3,557.0L1516.8,558.9L1517.3,560.8L1517.8,562.8L1518.3,564.7L1518.8,566.7L1519.2,568.6L1519.6,570.6L1520.1,572.5L1520.5,574.5L1520.9,576.4L1521.3,578.4L1521.7,580.3L1522.1,582.3L1522.5,584.3L1522.9,586.2L1523.3,588.2L1523.7,590.1L1524.0,592.1L1524.4,594.1L1524.8,596.0L1525.2,598.0L1525.6,600.0L1526.0,601.9L1526.4,603.9L1526.8,605.8L1527.3,607.8L1527.7,609.7L1528.1,611.7L1528.5,613.6L1529.0,615.6L1529.4,617.5L1529.9,619.5L1530.3,621.4L1530.8,623.4L1531.3,625.3L1531.8,627.3L1532.2,629.2L1532.7,631.2L1533.2,633.1L1533.7,635.0L1534.2,637.0L1534.7,638.9L1535.2,640.9L1535.7,642.8L1536.1,644.7L1536.6,646.7L1537.1,648.6L1537.6,650.5L1538.1,652.5L1538.6,654.4L1539.0,656.4L1539.5,658.3L1540.0,660.3L1540.4,662.2L1540.9,664.2L1541.4,666.1L1541.9,668.0L1542.4,670.0L1542.9,671.9L1543.5,673.8L1544.0,675.7L1544.6,677.7L1545.2,679.6L1545.8,681.5L1546.4,683.4L1547.1,685.2L1547.8,687.1L1548.6,689.0L1549.4,690.8L1550.2,692.6L1551.2,694.4L1552.2,696.1L1553.3,697.7L1554.7,699.2L1556.2,700.3L1558.1,700.8L1559.9,700.4L1561.5,699.4L1562.8,697.9L1563.9,696.3L1564.9,694.5L1565.8,692.7L1566.6,690.9L1567.3,689.0L1568.1,687.2L1568.8,685.3L1569.4,683.4L1570.0,681.5L1570.6,679.6L1571.2,677.7L1571.8,675.8L1572.3,673.8L1572.8,671.9L1573.4,670.0L1573.9,668.1L1574.4,666.1L1574.9,664.2L1575.4,662.2L1575.9,660.3L1576.4,658.4L1576.9,656.4L1577.3,654.5L1577.8,652.5L1578.2,650.6L1578.7,648.6L1579.1,646.7L1579.6,644.7L1580.0,642.8L1580.4,640.8L1580.9,638.9L1581.3,636.9L1581.7,635.0L1582.1,633.0L1582.6,631.1L1583.0,629.1L1583.4,627.1L1583.8,625.2L1584.2,623.2L1584.7,621.3L1585.1,619.3L1585.5,617.4L1586.0,615.4L1586.4,613.5L1586.9,611.5L1587.4,609.6L1587.9,607.7L1588.4,605.7L1588.9,603.8L1589.5,601.9L1590.0,600.0L1590.6,598.0L1591.2,596.1L1591.9,594.2L1592.5,592.4L1593.2,590.5L1593.9,588.6L1594.7,586.8L1595.6,585.0L1596.5,583.2L1597.5,581.5L1598.7,579.9L1600.1,578.5L1601.7,577.9L1603.5,578.4L1604.9,579.6L1606.2,581.1L1607.2,582.9L1608.0,584.7L1608.7,586.5L1609.4,588.4L1610.0,590.3L1610.6,592.2L1611.2,594.1L1611.9,596.0L1612.5,597.9L1613.1,599.8L1613.6,601.8L1614.2,603.7L1614.7,605.6L1615.3,607.5L1615.8,609.5L1616.3,611.4L1616.8,613.3L1617.2,615.3L1617.7,617.2L1618.2,619.2L1618.6,621.1L1619.1,623.1L1619.6,625.0L1620.0,627.0L1620.5,628.9L1621.0,630.9L1621.4,632.8L1621.9,634.7L1622.3,636.7L1622.8,638.6L1623.2,640.6L1623.7,642.5L1624.1,644.5L1624.6,646.4L1625.0,648.4L1625.4,650.3L1625.9,652.3L1626.3,654.3L1626.7,656.2L1627.1,658.2L1627.4,660.1L1627.8,662.1L1628.2,664.1L1628.6,666.0L1628.9,668.0L1629.3,670.0L1629.7,671.9L1630.0,673.9L1630.4,675.9L1630.8,677.8L1631.1,679.8L1631.5,681.8L1631.8,683.7L1632.2,685.7L1632.6,687.7L1632.9,689.6L1633.3,691.6L1633.6,693.6L1634.0,695.5L1634.3,697.5L1634.7,699.5L1635.0,701.5L1635.3,703.4L1635.7,705.4L1636.0,707.4L1636.4,709.3L1636.7,711.3L1637.1,713.3L1637.5,715.2L1637.8,717.2L1638.2,719.2L1638.5,721.1L1638.9,723.1L1639.2,725.1L1639.6,727.1L1639.9,729.0L1640.3,731.0L1640.6,733.0L1641.0,734.9L1641.3,736.9L1641.7,738.9L1642.0,740.8L1642.4,742.8L1642.7,744.8L1643.1,746.7L1643.4,748.7L1643.8,750.7L1644.1,752.7L1644.5,754.6L1644.8,756.6L1645.2,758.6L1645.5,760.5L1645.9,762.5L1646.2,764.5L1646.6,766.4L1646.9,768.4L1647.3,770.4L1647.7,772.3L1648.0,774.3L1648.4,776.3L1648.8,778.2L1649.2,780.2L1649.5,782.2L1649.9,784.1L1650.3,786.1L1650.7,788.1L1651.0,790.0L1651.4,792.0L1651.8,793.9L1652.2,795.9L1652.6,797.9L1653.0,799.8L1653.4,801.8L1653.8,803.7L1654.2,805.7L1654.6,807.7L1655.0,809.6L1655.4,811.6L1655.8,813.5L1656.2,815.5L1656.7,817.4L1657.1,819.4L1657.5,821.4L1657.9,823.3L1658.3,825.3L1658.8,827.2L1659.2,829.2L1659.6,831.1L1660.1,833.1L1660.5,835.0L1660.9,837.0L1661.4,838.9L1661.8,840.9L1662.3,842.8L1662.8,844.8L1663.2,846.7L1663.7,848.7L1664.2,850.6L1664.7,852.5L1665.3,854.5L1665.8,856.4L1666.3,858.3L1666.9,860.2L1667.4,862.1L1668.0,864.1L1668.6,866.0L1669.2,867.9L1669.8,869.8L1670.5,871.7L1671.1,873.6L1671.8,875.5L1672.5,877.3L1673.2,879.2L1673.9,881.1L1674.6,883.0L1675.3,884.8L1676.1,886.7L1676.9,888.5L1677.7,890.3L1678.5,892.1L1679.4,893.9L1680.3,895.7L1681.2,897.5L1682.2,899.2L1683.3,900.9L1684.3,902.6L1685.5,904.3L1686.7,905.9L1687.8,907.5L1689.1,909.1L1690.4,910.6L1691.7,912.1L1693.0,913.6L1694.4,915.1L1695.8,916.5L1697.2,917.9L1698.6,919.3L1700.1,920.7L1701.4,922.1L1702.7,923.6L1704.0,925.2L1705.3,926.7L1706.6,928.3L1707.8,929.8L1709.0,931.4L1710.3,933.0L1711.5,934.5L1712.8,936.1L1714.0,937.7L1715.3,939.2L1716.6,940.7L1717.9,942.3L1719.2,943.8L1720.5,945.3L1721.9,946.7L1723.2,948.2L1724.6,949.7L1726.0,951.1L1727.3,952.6L1728.7,954.0L1730.1,955.4L1731.6,956.8L1733.1,958.1L1734.7,959.4L1736.3,960.6L1737.9,961.7L1739.6,962.7L1741.4,963.6L1743.3,964.4L1745.2,965.1L1747.1,965.6L1749.0,966.1L1750.9,966.6L1752.9,967.0L1754.9,967.4L1756.8,967.7L1758.8,968.0L1760.8,968.3L1762.8,968.6L1764.8,968.9L1766.7,969.1L1768.7,969.4L1770.7,969.7L1772.7,970.1L1774.6,970.6L1776.5,971.1L1778.4,971.7L1780.3,972.3L1782.2,972.9L1784.2,973.5L1786.1,974.1L1788.0,974.7L1789.9,975.3L1791.8,975.8L1792.8,976.1"/></defs><use href="#cCs" stroke-width="3"/><use href="#cCs" stroke-width="1.3" filter="url(#sq)"/></g>
<g stroke="#9400d3"><defs><path id="cZn" d="M191.5,72.0L193.5,89.0L197.0,118.0L199.9,153.0L204.9,179.6L207.1,192.8L212.5,216.4L215.7,231.4L222.1,248.5L229.6,267.8L236.1,287.1L241.4,295.7L250.0,307.5L260.7,318.2L275.7,338.6L284.3,343.9L289.6,353.6L295.0,361.1L300.3,360.0L306.8,366.4L312.1,372.8L317.5,376.1L322.8,374.6L329.3,378.2L336.8,380.3L342.1,378.2L348.5,375.4L355.0,368.6L363.9,349.6L367.7,340.6L371.6,330.3L375.4,323.8L380.6,320.0L384.4,314.2L388.3,309.1L390.2,300.7L392.8,291.7L396.0,282.7L398.6,273.7L401.1,266.6L405.0,261.5L410.1,257.0L413.3,258.9L417.8,256.4L423.0,257.6L426.2,261.5L428.8,266.6L431.3,264.7L433.5,258.9L437.1,263.4L439.7,269.2L442.9,273.7L445.5,284.0L448.7,295.6L451.9,305.8L455.1,317.4L459.0,325.8L462.8,331.6L466.1,332.8L469.9,329.6L473.1,321.3L475.7,316.1L478.0,314.2L480.2,321.3L482.8,329.0L486.0,334.1L489.8,339.3L493.0,344.4L495.6,340.6L498.2,331.6L500.8,323.8L503.3,320.0L505.9,324.5L508.5,332.8L511.0,338.0L514.9,335.4L519.4,335.0L523.3,332.8L527.1,326.4L531.0,319.3L534.8,316.8L538.7,313.6L541.9,312.3L545.1,315.5L549.0,321.3L552.8,330.3L556.7,341.8L560.5,355.3L564.4,368.2L567.6,379.1L572.1,388.1L577.2,398.4L582.4,406.1L589.6,413.2L595.0,421.8L601.4,422.8L607.8,429.3L615.3,434.6L621.8,438.9L629.3,445.3L636.8,448.5L642.1,444.2L646.4,436.7L650.7,428.2L654.5,425.0L659.3,428.2L663.5,436.7L667.8,446.4L673.2,452.8L678.5,456.5L685.0,455.0L689.3,453.9L692.8,457.5L697.1,466.0L701.4,473.5L704.6,477.8L708.9,478.3L714.3,484.3L719.6,493.9L727.1,501.4L734.6,507.8L742.1,512.5L749.6,516.8L753.9,520.7L758.2,520.3L762.5,522.8L766.8,521.3L776.4,522.2L785.0,522.2L790.3,523.3L798.9,521.1L806.4,522.0L812.8,522.8L817.1,524.1L823.5,523.9L832.1,525.0L837.5,525.0L843.9,520.3L850.3,515.3L858.9,511.7L865.3,506.8L872.8,502.5L880.3,498.6L886.7,494.5L892.1,488.5L897.4,480.0L902.8,475.0L907.1,473.5L911.4,475.7L915.7,480.6L921.0,487.5L926.4,497.1L931.7,506.8L937.1,513.2L942.4,520.7L947.8,527.1L954.2,530.3L959.6,533.5L964.9,536.7L971.4,536.7L977.8,538.2L984.2,539.5L1000.7,543.2L1011.4,546.4L1022.1,546.0L1032.8,549.6L1043.6,550.7L1052.1,548.5L1065.0,547.9L1075.7,545.3L1084.3,543.2L1092.8,542.1L1101.4,538.5L1110.0,535.7L1118.5,532.0L1123.9,527.1L1129.3,526.0L1135.7,516.4L1142.1,507.8L1148.5,495.0L1155.0,484.3L1163.5,473.5L1170.0,462.8L1176.4,450.0L1182.8,439.3L1189.3,431.1L1194.6,430.3L1200.0,431.8L1206.4,439.3L1212.8,447.8L1219.2,456.4L1225.7,460.7L1234.2,458.5L1240.7,453.2L1247.1,446.8L1253.5,439.3L1260.0,432.8L1266.4,420.0L1270.7,407.1L1274.9,392.1L1279.2,381.4L1283.5,364.3L1286.7,351.4L1291.0,340.7L1293.2,328.5L1296.9,315.7L1301.2,308.2L1306.1,298.6L1310.3,285.7L1314.6,273.9L1317.8,260.0L1321.0,246.1L1324.8,232.1L1328.0,219.3L1331.2,206.4L1332.0,199.3L1333.9,187.7L1335.8,177.4L1338.4,169.7L1341.6,164.6L1345.5,163.3L1346.8,154.3L1348.1,142.7L1349.3,131.1L1351.3,124.7L1354.5,124.5L1358.3,126.0L1360.3,121.9L1362.8,119.6L1365.4,121.5L1368.0,126.0L1370.6,123.7L1373.8,123.7L1375.7,127.9L1378.9,129.2L1381.5,126.6L1384.0,123.7L1386.6,123.7L1387.9,130.5L1390.5,126.6L1394.3,130.5L1397.5,133.1L1401.4,134.3L1403.3,138.8L1407.8,140.8L1413.0,142.7L1416.2,145.9L1418.1,152.3L1421.3,157.5L1423.9,150.4L1426.5,152.3L1428.4,158.8L1432.9,160.7L1436.8,164.6L1440.6,168.4L1444.5,174.2L1446.4,171.0L1450.3,169.1L1452.2,174.8L1454.8,180.0L1458.0,176.1L1461.8,174.8L1465.7,176.8L1467.6,182.6L1470.2,181.9L1472.7,178.7L1475.3,183.2L1477.9,189.0L1483.2,182.1L1488.0,188.3L1490.9,184.7L1493.9,180.6L1496.1,187.3L1498.0,196.9L1501.2,198.6L1504.4,195.0L1506.4,201.4L1509.6,206.6L1511.5,214.3L1513.4,220.7L1517.3,222.0L1520.5,225.2L1523.1,233.6L1526.3,242.6L1528.2,251.6L1530.1,260.6L1532.7,268.3L1535.9,276.0L1538.5,285.0L1540.4,288.2L1543.6,290.8L1546.2,296.5L1548.1,301.0L1551.3,305.5L1553.9,312.6L1556.5,318.4L1559.7,322.9L1570.0,342.9L1576.4,353.6L1579.6,362.1L1585.0,369.6L1589.3,379.3L1595.7,387.8L1601.0,398.6L1606.4,407.1L1611.7,417.8L1618.2,428.6L1624.6,442.5L1631.0,450.0L1637.5,460.7L1643.9,468.2L1650.3,475.7L1655.7,485.3L1661.0,489.6L1667.5,497.1L1674.9,503.5L1680.3,511.0L1686.7,516.4L1693.2,522.8L1700.7,529.3L1707.1,536.7L1713.5,537.4L1719.9,542.1L1726.4,546.4L1732.8,550.2L1741.4,554.5L1749.9,559.2L1759.6,564.0L1767.1,570.0L1773.5,569.5L1779.9,572.1L1786.4,575.3L1792.8,578.5"/></defs><use href="#cZn" stroke-width="3"/><use href="#cZn" stroke-width="1.3" filter="url(#sq)"/></g>
</g>
<g fill="#000" shape-rendering="crispEdges">
<rect x="323" y="1255" width="5" height="15"/><rect x="323" y="35" width="5" height="15"/>
<rect x="456" y="1237" width="5" height="33"/><rect x="456" y="35" width="5" height="33"/>
<rect x="589" y="1255" width="5" height="15"/><rect x="589" y="35" width="5" height="15"/>
<rect x="722" y="1237" width="5" height="33"/><rect x="722" y="35" width="5" height="33"/>
<rect x="855" y="1255" width="5" height="15"/><rect x="855" y="35" width="5" height="15"/>
<rect x="988" y="1237" width="5" height="33"/><rect x="988" y="35" width="5" height="33"/>
<rect x="1121" y="1255" width="5" height="15"/><rect x="1121" y="35" width="5" height="15"/>
<rect x="1254" y="1237" width="5" height="33"/><rect x="1254" y="35" width="5" height="33"/>
<rect x="1387" y="1255" width="5" height="15"/><rect x="1387" y="35" width="5" height="15"/>
<rect x="1520" y="1237" width="5" height="33"/><rect x="1520" y="35" width="5" height="33"/>
<rect x="1653" y="1255" width="5" height="15"/><rect x="1653" y="35" width="5" height="15"/>
<rect x="196" y="1147" width="15" height="5"/><rect x="1771" y="1147" width="15" height="5"/>
<rect x="196" y="1023" width="33" height="5"/><rect x="1753" y="1023" width="33" height="5"/>
<rect x="196" y="898" width="15" height="5"/><rect x="1771" y="898" width="15" height="5"/>
<rect x="196" y="774" width="33" height="5"/><rect x="1753" y="774" width="33" height="5"/>
<rect x="196" y="650" width="15" height="5"/><rect x="1771" y="650" width="15" height="5"/>
<rect x="196" y="526" width="33" height="5"/><rect x="1753" y="526" width="33" height="5"/>
<rect x="196" y="402" width="15" height="5"/><rect x="1771" y="402" width="15" height="5"/>
<rect x="196" y="278" width="33" height="5"/><rect x="1753" y="278" width="33" height="5"/>
<rect x="196" y="154" width="15" height="5"/><rect x="1771" y="154" width="15" height="5"/>
<path fill-rule="evenodd" d="M189,29H1792V1277H189ZM196,35H1786V1270H196Z"/>
</g>
<g font-size="58.2" text-anchor="middle">
<text x="193.5" y="1332.3">1400</text><text x="459.6" y="1332.3">1450</text><text x="725.7" y="1332.3">1500</text><text x="991.8" y="1332.3">1550</text><text x="1257.8" y="1332.3">1600</text><text x="1523.9" y="1332.3">1650</text><text x="1790.0" y="1332.3">1700</text>
</g>
<g font-size="58.2" text-anchor="end">
<text x="177.5" y="1045.3">0.5</text><text x="177.5" y="797.0">1</text><text x="177.5" y="548.7">1.5</text><text x="177.5" y="300.4">2</text><text x="177.5" y="52.1">2.5</text>
</g>
<text x="724.3" y="1419" font-size="61">Wavenumber (cm<tspan x="1204.5" y="1382" font-size="44">-1</tspan><tspan x="1244" y="1419">)</tspan></text>
<text transform="translate(65.3,1116.3) rotate(-90)" font-size="61">Kubelak-Munk function (arb. units)</text>
<g font-size="49.5">
<text x="1007.5" y="511">Zn</text><text x="1007.5" y="883">Cs</text><text x="991" y="1060.7">Na</text><text x="991" y="1185">Li</text>
</g>
</svg>
</body></html>
